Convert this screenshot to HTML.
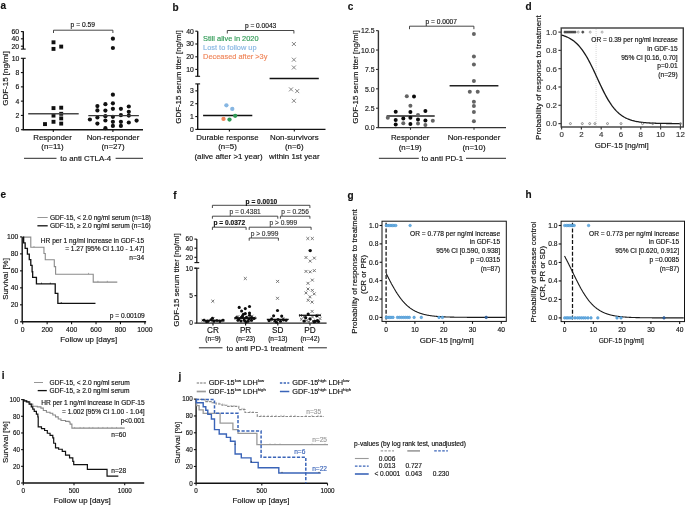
<!DOCTYPE html>
<html><head><meta charset="utf-8"><style>
html,body{margin:0;padding:0;background:#fff;}
svg{display:block;will-change:transform;}
text{font-family:"Liberation Sans", sans-serif;}
</style></head><body>
<svg width="685" height="505" viewBox="0 0 685 505" font-family='"Liberation Sans", sans-serif'>
<rect width="685" height="505" fill="#fff"/>
<text x="0.50" y="9.40" font-size="10" text-anchor="start" fill="#111" stroke="#111" stroke-width="0.15" font-weight="bold">a</text>
<line x1="23.30" y1="31.20" x2="23.30" y2="49.10" stroke="#111" stroke-width="1.4" stroke-linecap="butt"/>
<line x1="20.90" y1="31.60" x2="23.30" y2="31.60" stroke="#111" stroke-width="1.1" stroke-linecap="butt"/>
<text x="19.00" y="34.05" font-size="6.8" text-anchor="end" fill="#111" stroke="#111" stroke-width="0.15">60</text>
<line x1="20.90" y1="38.80" x2="23.30" y2="38.80" stroke="#111" stroke-width="1.1" stroke-linecap="butt"/>
<text x="19.00" y="41.25" font-size="6.8" text-anchor="end" fill="#111" stroke="#111" stroke-width="0.15">40</text>
<line x1="20.90" y1="46.20" x2="23.30" y2="46.20" stroke="#111" stroke-width="1.1" stroke-linecap="butt"/>
<text x="19.00" y="48.65" font-size="6.8" text-anchor="end" fill="#111" stroke="#111" stroke-width="0.15">20</text>
<line x1="20.90" y1="49.10" x2="25.70" y2="49.10" stroke="#111" stroke-width="1.1" stroke-linecap="butt"/>
<line x1="20.90" y1="58.30" x2="25.70" y2="58.30" stroke="#111" stroke-width="1.1" stroke-linecap="butt"/>
<line x1="23.30" y1="58.30" x2="23.30" y2="129.70" stroke="#111" stroke-width="1.4" stroke-linecap="butt"/>
<line x1="20.90" y1="129.70" x2="23.30" y2="129.70" stroke="#111" stroke-width="1.1" stroke-linecap="butt"/>
<text x="19.30" y="132.15" font-size="6.8" text-anchor="end" fill="#111" stroke="#111" stroke-width="0.15">0</text>
<line x1="20.90" y1="115.42" x2="23.30" y2="115.42" stroke="#111" stroke-width="1.1" stroke-linecap="butt"/>
<text x="19.30" y="117.87" font-size="6.8" text-anchor="end" fill="#111" stroke="#111" stroke-width="0.15">2</text>
<line x1="20.90" y1="101.14" x2="23.30" y2="101.14" stroke="#111" stroke-width="1.1" stroke-linecap="butt"/>
<text x="19.30" y="103.59" font-size="6.8" text-anchor="end" fill="#111" stroke="#111" stroke-width="0.15">4</text>
<line x1="20.90" y1="86.86" x2="23.30" y2="86.86" stroke="#111" stroke-width="1.1" stroke-linecap="butt"/>
<text x="19.30" y="89.31" font-size="6.8" text-anchor="end" fill="#111" stroke="#111" stroke-width="0.15">6</text>
<line x1="20.90" y1="72.58" x2="23.30" y2="72.58" stroke="#111" stroke-width="1.1" stroke-linecap="butt"/>
<text x="19.30" y="75.03" font-size="6.8" text-anchor="end" fill="#111" stroke="#111" stroke-width="0.15">8</text>
<text x="19.30" y="60.75" font-size="6.8" text-anchor="end" fill="#111" stroke="#111" stroke-width="0.15">10</text>
<line x1="22.60" y1="129.70" x2="143.00" y2="129.70" stroke="#111" stroke-width="1.4" stroke-linecap="butt"/>
<line x1="53.30" y1="129.70" x2="53.30" y2="131.90" stroke="#111" stroke-width="1.1" stroke-linecap="butt"/>
<line x1="112.90" y1="129.70" x2="112.90" y2="131.90" stroke="#111" stroke-width="1.1" stroke-linecap="butt"/>
<text x="0" y="2.88" font-size="8" text-anchor="middle" fill="#111" stroke="#111" stroke-width="0.15" transform="translate(4.90 78.50) rotate(-90)">GDF-15 [ng/ml]</text>
<text x="52.50" y="139.84" font-size="7.9" text-anchor="middle" fill="#111" stroke="#111" stroke-width="0.15">Responder</text>
<text x="52.50" y="149.44" font-size="7.9" text-anchor="middle" fill="#111" stroke="#111" stroke-width="0.15">(n=11)</text>
<text x="113.00" y="139.84" font-size="7.9" text-anchor="middle" fill="#111" stroke="#111" stroke-width="0.15">Non-responder</text>
<text x="113.00" y="149.44" font-size="7.9" text-anchor="middle" fill="#111" stroke="#111" stroke-width="0.15">(n=27)</text>
<text x="85.80" y="161.14" font-size="7.9" text-anchor="middle" fill="#111" stroke="#111" stroke-width="0.15">to anti CTLA-4</text>
<line x1="24.00" y1="158.30" x2="56.50" y2="158.30" stroke="#111" stroke-width="0.9" stroke-linecap="butt"/>
<line x1="115.60" y1="158.30" x2="143.00" y2="158.30" stroke="#111" stroke-width="0.9" stroke-linecap="butt"/>
<polyline points="53.50,33.00 53.50,30.20 112.90,30.20 112.90,33.00" fill="none" stroke="#333" stroke-width="0.9" stroke-linejoin="miter"/>
<text x="82.80" y="27.41" font-size="6.7" text-anchor="middle" fill="#111" stroke="#111" stroke-width="0.15">p = 0.59</text>
<rect x="51.55" y="40.35" width="3.9" height="3.9" fill="#111"/>
<rect x="51.55" y="46.95" width="3.9" height="3.9" fill="#111"/>
<rect x="59.25" y="44.65" width="3.9" height="3.9" fill="#111"/>
<rect x="51.55" y="106.15" width="3.9" height="3.9" fill="#111"/>
<rect x="59.25" y="105.75" width="3.9" height="3.9" fill="#111"/>
<rect x="51.55" y="113.65" width="3.9" height="3.9" fill="#111"/>
<rect x="59.25" y="111.85" width="3.9" height="3.9" fill="#111"/>
<rect x="59.25" y="116.45" width="3.9" height="3.9" fill="#111"/>
<rect x="51.55" y="119.85" width="3.9" height="3.9" fill="#111"/>
<rect x="59.25" y="121.65" width="3.9" height="3.9" fill="#111"/>
<rect x="43.05" y="122.15" width="3.9" height="3.9" fill="#111"/>
<line x1="28.20" y1="113.80" x2="78.70" y2="113.80" stroke="#4a4a4a" stroke-width="1.4" stroke-linecap="butt"/>
<circle cx="112.90" cy="38.70" r="2.1" fill="#111" stroke="none" stroke-width="0"/>
<circle cx="112.90" cy="48.00" r="2.1" fill="#111" stroke="none" stroke-width="0"/>
<circle cx="112.90" cy="94.70" r="2.1" fill="#111" stroke="none" stroke-width="0"/>
<circle cx="97.40" cy="106.10" r="2.1" fill="#111" stroke="none" stroke-width="0"/>
<circle cx="105.40" cy="104.20" r="2.1" fill="#111" stroke="none" stroke-width="0"/>
<circle cx="112.90" cy="103.30" r="2.1" fill="#111" stroke="none" stroke-width="0"/>
<circle cx="128.80" cy="106.50" r="2.1" fill="#111" stroke="none" stroke-width="0"/>
<circle cx="97.40" cy="110.40" r="2.1" fill="#111" stroke="none" stroke-width="0"/>
<circle cx="105.40" cy="110.60" r="2.1" fill="#111" stroke="none" stroke-width="0"/>
<circle cx="112.90" cy="108.80" r="2.1" fill="#111" stroke="none" stroke-width="0"/>
<circle cx="120.90" cy="108.80" r="2.1" fill="#111" stroke="none" stroke-width="0"/>
<circle cx="128.80" cy="111.80" r="2.1" fill="#111" stroke="none" stroke-width="0"/>
<circle cx="89.90" cy="119.50" r="2.1" fill="#111" stroke="none" stroke-width="0"/>
<circle cx="97.40" cy="117.50" r="2.1" fill="#111" stroke="none" stroke-width="0"/>
<circle cx="105.40" cy="116.20" r="2.1" fill="#111" stroke="none" stroke-width="0"/>
<circle cx="112.90" cy="116.80" r="2.1" fill="#111" stroke="none" stroke-width="0"/>
<circle cx="120.90" cy="115.20" r="2.1" fill="#111" stroke="none" stroke-width="0"/>
<circle cx="128.80" cy="115.60" r="2.1" fill="#111" stroke="none" stroke-width="0"/>
<circle cx="136.60" cy="120.60" r="2.1" fill="#111" stroke="none" stroke-width="0"/>
<circle cx="97.40" cy="123.60" r="2.1" fill="#111" stroke="none" stroke-width="0"/>
<circle cx="105.40" cy="120.50" r="2.1" fill="#111" stroke="none" stroke-width="0"/>
<circle cx="112.90" cy="121.80" r="2.1" fill="#111" stroke="none" stroke-width="0"/>
<circle cx="120.90" cy="121.80" r="2.1" fill="#111" stroke="none" stroke-width="0"/>
<circle cx="128.80" cy="122.50" r="2.1" fill="#111" stroke="none" stroke-width="0"/>
<circle cx="112.90" cy="125.90" r="2.1" fill="#111" stroke="none" stroke-width="0"/>
<circle cx="120.90" cy="125.90" r="2.1" fill="#111" stroke="none" stroke-width="0"/>
<circle cx="105.40" cy="128.20" r="2.1" fill="#111" stroke="none" stroke-width="0"/>
<line x1="88.30" y1="115.60" x2="138.90" y2="115.60" stroke="#3a3a3a" stroke-width="1.4" stroke-linecap="butt"/>
<text x="172.50" y="10.50" font-size="10" text-anchor="start" fill="#111" stroke="#111" stroke-width="0.15" font-weight="bold">b</text>
<line x1="197.70" y1="31.20" x2="197.70" y2="76.30" stroke="#111" stroke-width="1.4" stroke-linecap="butt"/>
<line x1="195.30" y1="31.20" x2="197.70" y2="31.20" stroke="#111" stroke-width="1.1" stroke-linecap="butt"/>
<text x="193.70" y="33.65" font-size="6.8" text-anchor="end" fill="#111" stroke="#111" stroke-width="0.15">40</text>
<line x1="195.30" y1="44.00" x2="197.70" y2="44.00" stroke="#111" stroke-width="1.1" stroke-linecap="butt"/>
<text x="193.70" y="46.45" font-size="6.8" text-anchor="end" fill="#111" stroke="#111" stroke-width="0.15">30</text>
<line x1="195.30" y1="56.80" x2="197.70" y2="56.80" stroke="#111" stroke-width="1.1" stroke-linecap="butt"/>
<text x="193.70" y="59.25" font-size="6.8" text-anchor="end" fill="#111" stroke="#111" stroke-width="0.15">20</text>
<line x1="195.30" y1="69.40" x2="197.70" y2="69.40" stroke="#111" stroke-width="1.1" stroke-linecap="butt"/>
<text x="193.70" y="71.85" font-size="6.8" text-anchor="end" fill="#111" stroke="#111" stroke-width="0.15">10</text>
<line x1="195.30" y1="76.30" x2="200.10" y2="76.30" stroke="#111" stroke-width="1.1" stroke-linecap="butt"/>
<line x1="197.70" y1="83.90" x2="197.70" y2="129.40" stroke="#111" stroke-width="1.4" stroke-linecap="butt"/>
<line x1="195.30" y1="83.90" x2="200.10" y2="83.90" stroke="#111" stroke-width="1.1" stroke-linecap="butt"/>
<line x1="195.30" y1="129.40" x2="197.70" y2="129.40" stroke="#111" stroke-width="1.1" stroke-linecap="butt"/>
<text x="193.70" y="131.85" font-size="6.8" text-anchor="end" fill="#111" stroke="#111" stroke-width="0.15">0</text>
<line x1="195.30" y1="116.55" x2="197.70" y2="116.55" stroke="#111" stroke-width="1.1" stroke-linecap="butt"/>
<text x="193.70" y="119.00" font-size="6.8" text-anchor="end" fill="#111" stroke="#111" stroke-width="0.15">1</text>
<line x1="195.30" y1="103.70" x2="197.70" y2="103.70" stroke="#111" stroke-width="1.1" stroke-linecap="butt"/>
<text x="193.70" y="106.15" font-size="6.8" text-anchor="end" fill="#111" stroke="#111" stroke-width="0.15">2</text>
<line x1="195.30" y1="90.85" x2="197.70" y2="90.85" stroke="#111" stroke-width="1.1" stroke-linecap="butt"/>
<text x="193.70" y="93.30" font-size="6.8" text-anchor="end" fill="#111" stroke="#111" stroke-width="0.15">3</text>
<line x1="197.00" y1="129.40" x2="325.50" y2="129.40" stroke="#111" stroke-width="1.4" stroke-linecap="butt"/>
<line x1="229.40" y1="129.40" x2="229.40" y2="131.60" stroke="#111" stroke-width="1.1" stroke-linecap="butt"/>
<line x1="294.30" y1="129.40" x2="294.30" y2="131.60" stroke="#111" stroke-width="1.1" stroke-linecap="butt"/>
<text x="0" y="2.84" font-size="7.9" text-anchor="middle" fill="#111" stroke="#111" stroke-width="0.15" transform="translate(178.60 77.00) rotate(-90)">GDF-15 serum titer [ng/ml]</text>
<text x="227.50" y="139.64" font-size="7.9" text-anchor="middle" fill="#111" stroke="#111" stroke-width="0.15">Durable response</text>
<text x="227.50" y="149.44" font-size="7.9" text-anchor="middle" fill="#111" stroke="#111" stroke-width="0.15">(n=5)</text>
<text x="228.50" y="158.84" font-size="7.9" text-anchor="middle" fill="#111" stroke="#111" stroke-width="0.15">(alive after &gt;1 year)</text>
<text x="294.30" y="139.64" font-size="7.9" text-anchor="middle" fill="#111" stroke="#111" stroke-width="0.15">Non-survivors</text>
<text x="294.30" y="149.44" font-size="7.9" text-anchor="middle" fill="#111" stroke="#111" stroke-width="0.15">(n=6)</text>
<text x="294.30" y="158.84" font-size="7.9" text-anchor="middle" fill="#111" stroke="#111" stroke-width="0.15">within 1st year</text>
<polyline points="227.30,33.50 227.30,30.50 293.90,30.50 293.90,33.50" fill="none" stroke="#333" stroke-width="0.9" stroke-linejoin="miter"/>
<text x="260.60" y="27.88" font-size="6.6" text-anchor="middle" fill="#111" stroke="#111" stroke-width="0.15">p = 0.0043</text>
<text x="203.10" y="41.46" font-size="7.4" text-anchor="start" fill="#2e9a55" stroke="#2e9a55" stroke-width="0.15">Still alive in 2020</text>
<text x="203.10" y="50.26" font-size="7.4" text-anchor="start" fill="#86b6e2" stroke="#86b6e2" stroke-width="0.15">Lost to follow up</text>
<text x="203.10" y="59.26" font-size="7.4" text-anchor="start" fill="#ef8559" stroke="#ef8559" stroke-width="0.15">Deceased after &gt;3y</text>
<line x1="203.10" y1="115.50" x2="252.30" y2="115.50" stroke="#111" stroke-width="1.5" stroke-linecap="butt"/>
<line x1="269.60" y1="78.50" x2="318.80" y2="78.50" stroke="#111" stroke-width="1.5" stroke-linecap="butt"/>
<path d="M291.90,42.00L295.90,46.00M291.90,46.00L295.90,42.00" stroke="#858585" stroke-width="1.0"/>
<path d="M291.90,57.70L295.90,61.70M291.90,61.70L295.90,57.70" stroke="#858585" stroke-width="1.0"/>
<path d="M291.90,65.50L295.90,69.50M291.90,69.50L295.90,65.50" stroke="#858585" stroke-width="1.0"/>
<path d="M289.00,87.40L293.00,91.40M289.00,91.40L293.00,87.40" stroke="#858585" stroke-width="1.0"/>
<path d="M295.20,89.10L299.20,93.10M295.20,93.10L299.20,89.10" stroke="#858585" stroke-width="1.0"/>
<path d="M291.90,98.80L295.90,102.80M291.90,102.80L295.90,98.80" stroke="#858585" stroke-width="1.0"/>
<circle cx="226.40" cy="105.30" r="2.15" fill="#86b6e2" stroke="none" stroke-width="0"/>
<circle cx="232.30" cy="108.90" r="2.15" fill="#86b6e2" stroke="none" stroke-width="0"/>
<circle cx="223.50" cy="118.90" r="2.15" fill="#ef8559" stroke="none" stroke-width="0"/>
<circle cx="229.50" cy="119.60" r="2.15" fill="#2e9a55" stroke="none" stroke-width="0"/>
<circle cx="235.20" cy="115.80" r="2.15" fill="#2e9a55" stroke="none" stroke-width="0"/>
<text x="347.70" y="10.40" font-size="10" text-anchor="start" fill="#111" stroke="#111" stroke-width="0.15" font-weight="bold">c</text>
<line x1="378.40" y1="30.50" x2="378.40" y2="127.60" stroke="#333" stroke-width="1.4" stroke-linecap="butt"/>
<line x1="376.00" y1="127.60" x2="378.40" y2="127.60" stroke="#333" stroke-width="1.1" stroke-linecap="butt"/>
<text x="374.50" y="130.28" font-size="6.9" text-anchor="end" fill="#111" stroke="#111" stroke-width="0.15">0.0</text>
<line x1="376.00" y1="108.21" x2="378.40" y2="108.21" stroke="#333" stroke-width="1.1" stroke-linecap="butt"/>
<text x="374.50" y="110.89" font-size="6.9" text-anchor="end" fill="#111" stroke="#111" stroke-width="0.15">2.5</text>
<line x1="376.00" y1="88.82" x2="378.40" y2="88.82" stroke="#333" stroke-width="1.1" stroke-linecap="butt"/>
<text x="374.50" y="91.50" font-size="6.9" text-anchor="end" fill="#111" stroke="#111" stroke-width="0.15">5.0</text>
<line x1="376.00" y1="69.43" x2="378.40" y2="69.43" stroke="#333" stroke-width="1.1" stroke-linecap="butt"/>
<text x="374.50" y="72.11" font-size="6.9" text-anchor="end" fill="#111" stroke="#111" stroke-width="0.15">7.5</text>
<line x1="376.00" y1="50.04" x2="378.40" y2="50.04" stroke="#333" stroke-width="1.1" stroke-linecap="butt"/>
<text x="374.50" y="52.72" font-size="6.9" text-anchor="end" fill="#111" stroke="#111" stroke-width="0.15">10.0</text>
<line x1="376.00" y1="30.65" x2="378.40" y2="30.65" stroke="#333" stroke-width="1.1" stroke-linecap="butt"/>
<text x="374.50" y="33.33" font-size="6.9" text-anchor="end" fill="#111" stroke="#111" stroke-width="0.15">12.5</text>
<line x1="377.70" y1="127.60" x2="506.00" y2="127.60" stroke="#333" stroke-width="1.4" stroke-linecap="butt"/>
<line x1="410.50" y1="127.60" x2="410.50" y2="129.80" stroke="#333" stroke-width="1.1" stroke-linecap="butt"/>
<line x1="474.00" y1="127.60" x2="474.00" y2="129.80" stroke="#333" stroke-width="1.1" stroke-linecap="butt"/>
<text x="0" y="2.84" font-size="7.9" text-anchor="middle" fill="#111" stroke="#111" stroke-width="0.15" transform="translate(355.30 77.00) rotate(-90)">GDF-15 serum titer [ng/ml]</text>
<text x="410.20" y="140.14" font-size="7.9" text-anchor="middle" fill="#111" stroke="#111" stroke-width="0.15">Responder</text>
<text x="410.20" y="150.04" font-size="7.9" text-anchor="middle" fill="#111" stroke="#111" stroke-width="0.15">(n=19)</text>
<text x="474.00" y="140.14" font-size="7.9" text-anchor="middle" fill="#111" stroke="#111" stroke-width="0.15">Non-responder</text>
<text x="474.00" y="150.04" font-size="7.9" text-anchor="middle" fill="#111" stroke="#111" stroke-width="0.15">(n=10)</text>
<text x="442.30" y="161.14" font-size="7.9" text-anchor="middle" fill="#111" stroke="#111" stroke-width="0.15">to anti PD-1</text>
<line x1="378.90" y1="158.30" x2="418.80" y2="158.30" stroke="#111" stroke-width="0.9" stroke-linecap="butt"/>
<line x1="466.00" y1="158.30" x2="506.00" y2="158.30" stroke="#111" stroke-width="0.9" stroke-linecap="butt"/>
<polyline points="409.50,29.20 409.50,26.20 473.90,26.20 473.90,29.20" fill="none" stroke="#333" stroke-width="0.9" stroke-linejoin="miter"/>
<text x="441.30" y="24.48" font-size="6.6" text-anchor="middle" fill="#111" stroke="#111" stroke-width="0.15">p = 0.0007</text>
<line x1="386.60" y1="116.00" x2="434.70" y2="116.00" stroke="#222" stroke-width="1.5" stroke-linecap="butt"/>
<line x1="449.60" y1="85.80" x2="498.40" y2="85.80" stroke="#222" stroke-width="1.5" stroke-linecap="butt"/>
<circle cx="473.90" cy="34.00" r="2.0" fill="#646464" stroke="none" stroke-width="0"/>
<circle cx="473.90" cy="56.40" r="2.0" fill="#646464" stroke="none" stroke-width="0"/>
<circle cx="473.90" cy="64.40" r="2.0" fill="#646464" stroke="none" stroke-width="0"/>
<circle cx="473.90" cy="81.10" r="2.0" fill="#646464" stroke="none" stroke-width="0"/>
<circle cx="469.80" cy="91.80" r="2.0" fill="#646464" stroke="none" stroke-width="0"/>
<circle cx="477.70" cy="91.80" r="2.0" fill="#646464" stroke="none" stroke-width="0"/>
<circle cx="473.90" cy="101.80" r="2.0" fill="#646464" stroke="none" stroke-width="0"/>
<circle cx="473.90" cy="106.00" r="2.0" fill="#646464" stroke="none" stroke-width="0"/>
<circle cx="473.90" cy="112.00" r="2.0" fill="#646464" stroke="none" stroke-width="0"/>
<circle cx="473.90" cy="121.30" r="2.0" fill="#646464" stroke="none" stroke-width="0"/>
<circle cx="406.80" cy="96.30" r="2.0" fill="#646464" stroke="none" stroke-width="0"/>
<circle cx="410.40" cy="105.80" r="2.0" fill="#646464" stroke="none" stroke-width="0"/>
<circle cx="387.80" cy="117.70" r="2.0" fill="#646464" stroke="none" stroke-width="0"/>
<circle cx="418.00" cy="115.10" r="2.0" fill="#646464" stroke="none" stroke-width="0"/>
<circle cx="403.30" cy="123.20" r="2.0" fill="#646464" stroke="none" stroke-width="0"/>
<circle cx="418.00" cy="123.60" r="2.0" fill="#646464" stroke="none" stroke-width="0"/>
<circle cx="425.40" cy="125.00" r="2.0" fill="#646464" stroke="none" stroke-width="0"/>
<circle cx="432.80" cy="120.80" r="2.0" fill="#646464" stroke="none" stroke-width="0"/>
<circle cx="395.70" cy="111.70" r="2.0" fill="#0a0a0a" stroke="none" stroke-width="0"/>
<circle cx="414.00" cy="96.50" r="2.0" fill="#0a0a0a" stroke="none" stroke-width="0"/>
<circle cx="410.40" cy="112.00" r="2.0" fill="#0a0a0a" stroke="none" stroke-width="0"/>
<circle cx="425.40" cy="111.00" r="2.0" fill="#0a0a0a" stroke="none" stroke-width="0"/>
<circle cx="395.70" cy="120.10" r="2.0" fill="#0a0a0a" stroke="none" stroke-width="0"/>
<circle cx="403.30" cy="118.60" r="2.0" fill="#0a0a0a" stroke="none" stroke-width="0"/>
<circle cx="410.40" cy="117.70" r="2.0" fill="#0a0a0a" stroke="none" stroke-width="0"/>
<circle cx="418.00" cy="119.60" r="2.0" fill="#0a0a0a" stroke="none" stroke-width="0"/>
<circle cx="425.40" cy="120.50" r="2.0" fill="#0a0a0a" stroke="none" stroke-width="0"/>
<circle cx="395.70" cy="124.60" r="2.0" fill="#0a0a0a" stroke="none" stroke-width="0"/>
<circle cx="410.40" cy="124.10" r="2.0" fill="#0a0a0a" stroke="none" stroke-width="0"/>
<text x="525.50" y="10.40" font-size="10" text-anchor="start" fill="#111" stroke="#111" stroke-width="0.15" font-weight="bold">d</text>
<rect x="561.2" y="28.0" width="122.09999999999991" height="99.0" fill="none" stroke="#3c3c3c" stroke-width="1.4"/>
<line x1="558.40" y1="123.60" x2="561.20" y2="123.60" stroke="#3c3c3c" stroke-width="1.2" stroke-linecap="butt"/>
<text x="557.00" y="126.44" font-size="7.9" text-anchor="end" fill="#333" stroke="#333" stroke-width="0.15">0.0</text>
<line x1="558.40" y1="105.30" x2="561.20" y2="105.30" stroke="#3c3c3c" stroke-width="1.2" stroke-linecap="butt"/>
<text x="557.00" y="108.14" font-size="7.9" text-anchor="end" fill="#333" stroke="#333" stroke-width="0.15">0.2</text>
<line x1="558.40" y1="87.00" x2="561.20" y2="87.00" stroke="#3c3c3c" stroke-width="1.2" stroke-linecap="butt"/>
<text x="557.00" y="89.84" font-size="7.9" text-anchor="end" fill="#333" stroke="#333" stroke-width="0.15">0.4</text>
<line x1="558.40" y1="68.70" x2="561.20" y2="68.70" stroke="#3c3c3c" stroke-width="1.2" stroke-linecap="butt"/>
<text x="557.00" y="71.54" font-size="7.9" text-anchor="end" fill="#333" stroke="#333" stroke-width="0.15">0.6</text>
<line x1="558.40" y1="50.40" x2="561.20" y2="50.40" stroke="#3c3c3c" stroke-width="1.2" stroke-linecap="butt"/>
<text x="557.00" y="53.24" font-size="7.9" text-anchor="end" fill="#333" stroke="#333" stroke-width="0.15">0.8</text>
<line x1="558.40" y1="32.10" x2="561.20" y2="32.10" stroke="#3c3c3c" stroke-width="1.2" stroke-linecap="butt"/>
<text x="557.00" y="34.94" font-size="7.9" text-anchor="end" fill="#333" stroke="#333" stroke-width="0.15">1.0</text>
<line x1="561.60" y1="127.00" x2="561.60" y2="129.60" stroke="#3c3c3c" stroke-width="1.2" stroke-linecap="butt"/>
<text x="561.60" y="137.14" font-size="7.9" text-anchor="middle" fill="#333" stroke="#333" stroke-width="0.15">0</text>
<line x1="581.40" y1="127.00" x2="581.40" y2="129.60" stroke="#3c3c3c" stroke-width="1.2" stroke-linecap="butt"/>
<text x="581.40" y="137.14" font-size="7.9" text-anchor="middle" fill="#333" stroke="#333" stroke-width="0.15">2</text>
<line x1="601.20" y1="127.00" x2="601.20" y2="129.60" stroke="#3c3c3c" stroke-width="1.2" stroke-linecap="butt"/>
<text x="601.20" y="137.14" font-size="7.9" text-anchor="middle" fill="#333" stroke="#333" stroke-width="0.15">4</text>
<line x1="621.00" y1="127.00" x2="621.00" y2="129.60" stroke="#3c3c3c" stroke-width="1.2" stroke-linecap="butt"/>
<text x="621.00" y="137.14" font-size="7.9" text-anchor="middle" fill="#333" stroke="#333" stroke-width="0.15">6</text>
<line x1="640.80" y1="127.00" x2="640.80" y2="129.60" stroke="#3c3c3c" stroke-width="1.2" stroke-linecap="butt"/>
<text x="640.80" y="137.14" font-size="7.9" text-anchor="middle" fill="#333" stroke="#333" stroke-width="0.15">8</text>
<line x1="660.60" y1="127.00" x2="660.60" y2="129.60" stroke="#3c3c3c" stroke-width="1.2" stroke-linecap="butt"/>
<text x="660.60" y="137.14" font-size="7.9" text-anchor="middle" fill="#333" stroke="#333" stroke-width="0.15">10</text>
<line x1="680.40" y1="127.00" x2="680.40" y2="129.60" stroke="#3c3c3c" stroke-width="1.2" stroke-linecap="butt"/>
<text x="680.40" y="137.14" font-size="7.9" text-anchor="middle" fill="#333" stroke="#333" stroke-width="0.15">12</text>
<line x1="660.60" y1="123.60" x2="660.60" y2="127.00" stroke="#3c3c3c" stroke-width="1.0" stroke-linecap="butt"/>
<line x1="680.40" y1="123.60" x2="680.40" y2="127.00" stroke="#3c3c3c" stroke-width="1.0" stroke-linecap="butt"/>
<text x="621.70" y="147.54" font-size="7.9" text-anchor="middle" fill="#111" stroke="#111" stroke-width="0.15">GDF-15 [ng/ml]</text>
<text x="0" y="2.84" font-size="7.9" text-anchor="middle" fill="#111" stroke="#111" stroke-width="0.15" transform="translate(538.00 77.60) rotate(-90)">Probability of response to treatment</text>
<line x1="596.10" y1="29.00" x2="596.10" y2="126.00" stroke="#c8c8c8" stroke-width="0.7" stroke-dasharray="1,1" stroke-linecap="butt"/>
<polyline points="561.60,35.11 562.59,35.40 563.58,35.71 564.57,36.05 565.56,36.43 566.55,36.83 567.54,37.27 568.53,37.75 569.52,38.27 570.51,38.84 571.50,39.45 572.49,40.11 573.48,40.82 574.47,41.60 575.46,42.43 576.45,43.32 577.44,44.28 578.43,45.31 579.42,46.41 580.41,47.59 581.40,48.84 582.39,50.16 583.38,51.57 584.37,53.05 585.36,54.61 586.35,56.24 587.34,57.95 588.33,59.74 589.32,61.58 590.31,63.50 591.30,65.47 592.29,67.49 593.28,69.55 594.27,71.65 595.26,73.78 596.25,75.92 597.24,78.07 598.23,80.23 599.22,82.37 600.21,84.49 601.20,86.58 602.19,88.64 603.18,90.65 604.17,92.60 605.16,94.50 606.15,96.34 607.14,98.11 608.13,99.80 609.12,101.42 610.11,102.97 611.10,104.43 612.09,105.82 613.08,107.13 614.07,108.36 615.06,109.52 616.05,110.61 617.04,111.62 618.03,112.57 619.02,113.45 620.01,114.27 621.00,115.03 621.99,115.73 622.98,116.38 623.97,116.99 624.96,117.54 625.95,118.05 626.94,118.52 627.93,118.96 628.92,119.35 629.91,119.72 630.90,120.05 631.89,120.36 632.88,120.64 633.87,120.90 634.86,121.14 635.85,121.35 636.84,121.55 637.83,121.73 638.82,121.90 639.81,122.05 640.80,122.18 641.79,122.31 642.78,122.42 643.77,122.53 644.76,122.62 645.75,122.71 646.74,122.79 647.73,122.86 648.72,122.93 649.71,122.99 650.70,123.04 651.69,123.09 652.68,123.14 653.67,123.18 654.66,123.22 655.65,123.25 656.64,123.28 657.63,123.31 658.62,123.34 659.61,123.36 660.60,123.38 661.59,123.40 662.58,123.42 663.57,123.44 664.56,123.45 665.55,123.46 666.54,123.48 667.53,123.49 668.52,123.50 669.51,123.51 670.50,123.51 671.49,123.52 672.48,123.53 673.47,123.54 674.46,123.54 675.45,123.55 676.44,123.55 677.43,123.56 678.42,123.56 679.41,123.56 680.40,123.57" fill="none" stroke="#1a1a1a" stroke-width="1.3" stroke-linejoin="miter"/>
<circle cx="565.00" cy="32.10" r="1.1" fill="#555" stroke="#333" stroke-width="0.6"/>
<circle cx="567.00" cy="32.10" r="1.1" fill="#555" stroke="#333" stroke-width="0.6"/>
<circle cx="569.00" cy="32.10" r="1.1" fill="#555" stroke="#333" stroke-width="0.6"/>
<circle cx="571.00" cy="32.10" r="1.1" fill="#555" stroke="#333" stroke-width="0.6"/>
<circle cx="573.00" cy="32.10" r="1.1" fill="#555" stroke="#333" stroke-width="0.6"/>
<circle cx="575.00" cy="32.10" r="1.1" fill="#555" stroke="#333" stroke-width="0.6"/>
<circle cx="582.80" cy="32.10" r="1.1" fill="#555" stroke="#333" stroke-width="0.6"/>
<circle cx="578.20" cy="32.10" r="1.0" fill="none" stroke="#888" stroke-width="0.7"/>
<circle cx="590.20" cy="32.10" r="1.0" fill="none" stroke="#888" stroke-width="0.7"/>
<circle cx="602.10" cy="32.10" r="1.0" fill="none" stroke="#888" stroke-width="0.7"/>
<circle cx="570.40" cy="123.60" r="1.0" fill="none" stroke="#666" stroke-width="0.7"/>
<circle cx="582.30" cy="123.60" r="1.0" fill="none" stroke="#666" stroke-width="0.7"/>
<circle cx="589.70" cy="123.60" r="1.0" fill="none" stroke="#666" stroke-width="0.7"/>
<circle cx="594.90" cy="123.60" r="1.0" fill="none" stroke="#666" stroke-width="0.7"/>
<circle cx="607.50" cy="123.60" r="1.0" fill="none" stroke="#666" stroke-width="0.7"/>
<circle cx="621.00" cy="123.60" r="1.0" fill="none" stroke="#666" stroke-width="0.7"/>
<circle cx="642.50" cy="123.60" r="1.0" fill="none" stroke="#666" stroke-width="0.7"/>
<circle cx="652.70" cy="123.60" r="1.0" fill="none" stroke="#666" stroke-width="0.7"/>
<circle cx="680.50" cy="123.60" r="1.0" fill="none" stroke="#666" stroke-width="0.7"/>
<text x="677.60" y="41.88" font-size="6.6" text-anchor="end" fill="#111" stroke="#111" stroke-width="0.15">OR = 0.39 per ng/ml increase</text>
<text x="677.60" y="50.68" font-size="6.6" text-anchor="end" fill="#111" stroke="#111" stroke-width="0.15">in GDF-15</text>
<text x="677.60" y="59.68" font-size="6.6" text-anchor="end" fill="#111" stroke="#111" stroke-width="0.15">95% CI [0.16, 0.70]</text>
<text x="677.60" y="68.48" font-size="6.6" text-anchor="end" fill="#111" stroke="#111" stroke-width="0.15">p=0.01</text>
<text x="677.60" y="77.28" font-size="6.6" text-anchor="end" fill="#111" stroke="#111" stroke-width="0.15">(n=29)</text>
<text x="0.50" y="198.40" font-size="10" text-anchor="start" fill="#111" stroke="#111" stroke-width="0.15" font-weight="bold">e</text>
<line x1="37.40" y1="217.50" x2="47.70" y2="217.50" stroke="#8a8a8a" stroke-width="0.9" stroke-linecap="butt"/>
<text x="49.90" y="219.88" font-size="6.6" text-anchor="start" fill="#111" stroke="#111" stroke-width="0.15">GDF-15, &lt; 2.0 ng/ml serum (n=18)</text>
<line x1="37.40" y1="225.80" x2="47.70" y2="225.80" stroke="#111" stroke-width="1.3" stroke-linecap="butt"/>
<text x="49.90" y="228.18" font-size="6.6" text-anchor="start" fill="#111" stroke="#111" stroke-width="0.15">GDF-15, ≥ 2.0 ng/ml serum (n=16)</text>
<line x1="22.20" y1="236.90" x2="22.20" y2="321.80" stroke="#111" stroke-width="1.4" stroke-linecap="butt"/>
<line x1="20.00" y1="321.80" x2="22.20" y2="321.80" stroke="#111" stroke-width="1.1" stroke-linecap="butt"/>
<text x="18.40" y="324.25" font-size="6.8" text-anchor="end" fill="#111" stroke="#111" stroke-width="0.15">0</text>
<line x1="20.00" y1="304.82" x2="22.20" y2="304.82" stroke="#111" stroke-width="1.1" stroke-linecap="butt"/>
<text x="18.40" y="307.27" font-size="6.8" text-anchor="end" fill="#111" stroke="#111" stroke-width="0.15">20</text>
<line x1="20.00" y1="287.84" x2="22.20" y2="287.84" stroke="#111" stroke-width="1.1" stroke-linecap="butt"/>
<text x="18.40" y="290.29" font-size="6.8" text-anchor="end" fill="#111" stroke="#111" stroke-width="0.15">40</text>
<line x1="20.00" y1="270.86" x2="22.20" y2="270.86" stroke="#111" stroke-width="1.1" stroke-linecap="butt"/>
<text x="18.40" y="273.31" font-size="6.8" text-anchor="end" fill="#111" stroke="#111" stroke-width="0.15">60</text>
<line x1="20.00" y1="253.88" x2="22.20" y2="253.88" stroke="#111" stroke-width="1.1" stroke-linecap="butt"/>
<text x="18.40" y="256.33" font-size="6.8" text-anchor="end" fill="#111" stroke="#111" stroke-width="0.15">80</text>
<line x1="20.00" y1="236.90" x2="22.20" y2="236.90" stroke="#111" stroke-width="1.1" stroke-linecap="butt"/>
<text x="18.40" y="239.35" font-size="6.8" text-anchor="end" fill="#111" stroke="#111" stroke-width="0.15">100</text>
<line x1="21.50" y1="321.80" x2="146.10" y2="321.80" stroke="#111" stroke-width="1.4" stroke-linecap="butt"/>
<line x1="22.70" y1="321.80" x2="22.70" y2="324.20" stroke="#111" stroke-width="1.1" stroke-linecap="butt"/>
<text x="22.70" y="332.25" font-size="6.8" text-anchor="middle" fill="#111" stroke="#111" stroke-width="0.15">0</text>
<line x1="47.14" y1="321.80" x2="47.14" y2="324.20" stroke="#111" stroke-width="1.1" stroke-linecap="butt"/>
<text x="47.14" y="332.25" font-size="6.8" text-anchor="middle" fill="#111" stroke="#111" stroke-width="0.15">200</text>
<line x1="71.58" y1="321.80" x2="71.58" y2="324.20" stroke="#111" stroke-width="1.1" stroke-linecap="butt"/>
<text x="71.58" y="332.25" font-size="6.8" text-anchor="middle" fill="#111" stroke="#111" stroke-width="0.15">400</text>
<line x1="96.02" y1="321.80" x2="96.02" y2="324.20" stroke="#111" stroke-width="1.1" stroke-linecap="butt"/>
<text x="96.02" y="332.25" font-size="6.8" text-anchor="middle" fill="#111" stroke="#111" stroke-width="0.15">600</text>
<line x1="120.46" y1="321.80" x2="120.46" y2="324.20" stroke="#111" stroke-width="1.1" stroke-linecap="butt"/>
<text x="120.46" y="332.25" font-size="6.8" text-anchor="middle" fill="#111" stroke="#111" stroke-width="0.15">800</text>
<line x1="144.90" y1="321.80" x2="144.90" y2="324.20" stroke="#111" stroke-width="1.1" stroke-linecap="butt"/>
<text x="144.90" y="332.25" font-size="6.8" text-anchor="middle" fill="#111" stroke="#111" stroke-width="0.15">1000</text>
<text x="88.70" y="342.34" font-size="7.9" text-anchor="middle" fill="#111" stroke="#111" stroke-width="0.15">Follow up [days]</text>
<text x="0" y="2.84" font-size="7.9" text-anchor="middle" fill="#111" stroke="#111" stroke-width="0.15" transform="translate(5.00 279.00) rotate(-90)">Survival [%]</text>
<text x="144.20" y="242.88" font-size="6.6" text-anchor="end" fill="#111" stroke="#111" stroke-width="0.15">HR per 1 ng/ml increase in GDF-15</text>
<text x="144.20" y="251.18" font-size="6.6" text-anchor="end" fill="#111" stroke="#111" stroke-width="0.15">= 1.27 [95% CI 1.10 - 1.47]</text>
<text x="144.20" y="260.08" font-size="6.6" text-anchor="end" fill="#111" stroke="#111" stroke-width="0.15">n=34</text>
<text x="144.80" y="318.28" font-size="6.6" text-anchor="end" fill="#111" stroke="#111" stroke-width="0.15">p = 0.00109</text>
<polyline points="22.70,237.15 30.79,237.15 30.79,247.30 43.95,247.30 43.95,253.51 45.27,253.51 45.27,259.71 54.29,259.71 54.29,266.67 55.61,266.67 55.61,274.19 93.22,274.19 93.22,282.09 117.29,282.09 117.29,282.09" fill="none" stroke="#8a8a8a" stroke-width="1.1" stroke-linejoin="miter"/>
<line x1="33.98" y1="246.00" x2="33.98" y2="247.30" stroke="#8a8a8a" stroke-width="0.7" stroke-linecap="butt"/>
<line x1="88.52" y1="272.89" x2="88.52" y2="274.19" stroke="#8a8a8a" stroke-width="0.7" stroke-linecap="butt"/>
<line x1="97.92" y1="280.79" x2="97.92" y2="282.09" stroke="#8a8a8a" stroke-width="0.7" stroke-linecap="butt"/>
<line x1="107.32" y1="280.79" x2="107.32" y2="282.09" stroke="#8a8a8a" stroke-width="0.7" stroke-linecap="butt"/>
<polyline points="22.70,237.15 23.64,237.15 23.64,242.79 25.15,242.79 25.15,248.43 27.40,248.43 27.40,254.07 29.28,254.07 29.28,259.71 30.79,259.71 30.79,265.35 32.10,265.35 32.10,271.75 32.67,271.75 32.67,277.39 36.43,277.39 36.43,283.97 55.23,283.97 55.23,293.37 57.86,293.37 57.86,303.34 95.47,303.34 95.47,303.34" fill="none" stroke="#111" stroke-width="1.3" stroke-linejoin="miter"/>
<line x1="41.51" y1="282.67" x2="41.51" y2="283.97" stroke="#111" stroke-width="0.7" stroke-linecap="butt"/>
<line x1="50.34" y1="282.67" x2="50.34" y2="283.97" stroke="#111" stroke-width="0.7" stroke-linecap="butt"/>
<line x1="61.25" y1="302.04" x2="61.25" y2="303.34" stroke="#111" stroke-width="0.7" stroke-linecap="butt"/>
<text x="173.30" y="199.40" font-size="10" text-anchor="start" fill="#111" stroke="#111" stroke-width="0.15" font-weight="bold">f</text>
<line x1="196.80" y1="239.10" x2="196.80" y2="262.60" stroke="#222" stroke-width="1.3" stroke-linecap="butt"/>
<line x1="194.40" y1="239.10" x2="196.80" y2="239.10" stroke="#111" stroke-width="1.1" stroke-linecap="butt"/>
<text x="192.90" y="241.48" font-size="6.6" text-anchor="end" fill="#111" stroke="#111" stroke-width="0.15">60</text>
<line x1="194.40" y1="248.20" x2="196.80" y2="248.20" stroke="#111" stroke-width="1.1" stroke-linecap="butt"/>
<text x="192.90" y="250.58" font-size="6.6" text-anchor="end" fill="#111" stroke="#111" stroke-width="0.15">40</text>
<line x1="194.40" y1="257.30" x2="196.80" y2="257.30" stroke="#111" stroke-width="1.1" stroke-linecap="butt"/>
<text x="192.90" y="259.68" font-size="6.6" text-anchor="end" fill="#111" stroke="#111" stroke-width="0.15">20</text>
<line x1="194.40" y1="262.60" x2="199.20" y2="262.60" stroke="#111" stroke-width="1.1" stroke-linecap="butt"/>
<line x1="194.40" y1="268.20" x2="199.20" y2="268.20" stroke="#111" stroke-width="1.1" stroke-linecap="butt"/>
<line x1="196.80" y1="268.20" x2="196.80" y2="323.10" stroke="#222" stroke-width="1.3" stroke-linecap="butt"/>
<line x1="194.40" y1="323.10" x2="196.80" y2="323.10" stroke="#111" stroke-width="1.1" stroke-linecap="butt"/>
<text x="192.90" y="325.48" font-size="6.6" text-anchor="end" fill="#111" stroke="#111" stroke-width="0.15">0</text>
<line x1="194.40" y1="295.65" x2="196.80" y2="295.65" stroke="#111" stroke-width="1.1" stroke-linecap="butt"/>
<text x="192.90" y="298.03" font-size="6.6" text-anchor="end" fill="#111" stroke="#111" stroke-width="0.15">5</text>
<line x1="194.40" y1="268.20" x2="196.80" y2="268.20" stroke="#111" stroke-width="1.1" stroke-linecap="butt"/>
<text x="192.90" y="270.58" font-size="6.6" text-anchor="end" fill="#111" stroke="#111" stroke-width="0.15">10</text>
<line x1="196.20" y1="323.10" x2="326.60" y2="323.10" stroke="#222" stroke-width="1.3" stroke-linecap="butt"/>
<text x="0" y="2.84" font-size="7.9" text-anchor="middle" fill="#111" stroke="#111" stroke-width="0.15" transform="translate(176.00 280.00) rotate(-90)">GDF-15 serum titer [ng/ml]</text>
<line x1="213.00" y1="323.10" x2="213.00" y2="325.60" stroke="#111" stroke-width="1.1" stroke-linecap="butt"/>
<text x="213.00" y="333.35" font-size="8.2" text-anchor="middle" fill="#111" stroke="#111" stroke-width="0.15">CR</text>
<text x="213.00" y="340.68" font-size="6.6" text-anchor="middle" fill="#111" stroke="#111" stroke-width="0.15">(n=9)</text>
<line x1="245.60" y1="323.10" x2="245.60" y2="325.60" stroke="#111" stroke-width="1.1" stroke-linecap="butt"/>
<text x="245.60" y="333.35" font-size="8.2" text-anchor="middle" fill="#111" stroke="#111" stroke-width="0.15">PR</text>
<text x="245.60" y="340.68" font-size="6.6" text-anchor="middle" fill="#111" stroke="#111" stroke-width="0.15">(n=23)</text>
<line x1="277.80" y1="323.10" x2="277.80" y2="325.60" stroke="#111" stroke-width="1.1" stroke-linecap="butt"/>
<text x="277.80" y="333.35" font-size="8.2" text-anchor="middle" fill="#111" stroke="#111" stroke-width="0.15">SD</text>
<text x="277.80" y="340.68" font-size="6.6" text-anchor="middle" fill="#111" stroke="#111" stroke-width="0.15">(n=13)</text>
<line x1="310.00" y1="323.10" x2="310.00" y2="325.60" stroke="#111" stroke-width="1.1" stroke-linecap="butt"/>
<text x="310.00" y="333.35" font-size="8.2" text-anchor="middle" fill="#111" stroke="#111" stroke-width="0.15">PD</text>
<text x="310.00" y="340.68" font-size="6.6" text-anchor="middle" fill="#111" stroke="#111" stroke-width="0.15">(n=42)</text>
<text x="265.20" y="350.64" font-size="7.9" text-anchor="middle" fill="#111" stroke="#111" stroke-width="0.15">to anti PD-1 treatment</text>
<line x1="198.90" y1="347.80" x2="222.50" y2="347.80" stroke="#111" stroke-width="0.9" stroke-linecap="butt"/>
<line x1="308.00" y1="347.80" x2="326.90" y2="347.80" stroke="#111" stroke-width="0.9" stroke-linecap="butt"/>
<polyline points="212.40,208.00 212.40,205.30 309.90,205.30 309.90,208.00" fill="none" stroke="#333" stroke-width="0.9" stroke-linejoin="miter"/>
<text x="261.40" y="203.58" font-size="6.6" text-anchor="middle" fill="#111" stroke="#111" stroke-width="0.15" font-weight="bold">p = 0.0010</text>
<polyline points="212.40,218.70 212.40,216.20 277.80,216.20 277.80,218.70" fill="none" stroke="#333" stroke-width="0.9" stroke-linejoin="miter"/>
<text x="245.10" y="214.28" font-size="6.6" text-anchor="middle" fill="#333" stroke="#333" stroke-width="0.15">p = 0.4381</text>
<polyline points="280.40,218.70 280.40,216.20 309.90,216.20 309.90,218.70" fill="none" stroke="#333" stroke-width="0.9" stroke-linejoin="miter"/>
<text x="295.10" y="214.28" font-size="6.6" text-anchor="middle" fill="#333" stroke="#333" stroke-width="0.15">p = 0.256</text>
<polyline points="212.40,229.90 212.40,227.20 246.10,227.20 246.10,229.90" fill="none" stroke="#333" stroke-width="0.9" stroke-linejoin="miter"/>
<text x="229.30" y="225.08" font-size="6.6" text-anchor="middle" fill="#111" stroke="#111" stroke-width="0.15" font-weight="bold">p = 0.0372</text>
<polyline points="249.20,229.90 249.20,227.20 311.10,227.20 311.10,229.90" fill="none" stroke="#333" stroke-width="0.9" stroke-linejoin="miter"/>
<text x="283.30" y="225.08" font-size="6.6" text-anchor="middle" fill="#333" stroke="#333" stroke-width="0.15">p &gt; 0.999</text>
<polyline points="249.20,240.70 249.20,238.00 278.40,238.00 278.40,240.70" fill="none" stroke="#333" stroke-width="0.9" stroke-linejoin="miter"/>
<text x="264.50" y="235.88" font-size="6.6" text-anchor="middle" fill="#333" stroke="#333" stroke-width="0.15">p &gt; 0.999</text>
<path d="M201.55,318.85L204.45,321.75M201.55,321.75L204.45,318.85" stroke="#6e6e6e" stroke-width="0.95"/>
<path d="M204.55,320.05L207.45,322.95M204.55,322.95L207.45,320.05" stroke="#6e6e6e" stroke-width="0.95"/>
<path d="M207.55,319.35L210.45,322.25M207.55,322.25L210.45,319.35" stroke="#6e6e6e" stroke-width="0.95"/>
<path d="M210.55,320.35L213.45,323.25M210.55,323.25L213.45,320.35" stroke="#6e6e6e" stroke-width="0.95"/>
<path d="M213.55,319.15L216.45,322.05M213.55,322.05L216.45,319.15" stroke="#6e6e6e" stroke-width="0.95"/>
<path d="M216.55,320.05L219.45,322.95M216.55,322.95L219.45,320.05" stroke="#6e6e6e" stroke-width="0.95"/>
<path d="M219.55,319.45L222.45,322.35M219.55,322.35L222.45,319.45" stroke="#6e6e6e" stroke-width="0.95"/>
<path d="M211.55,317.35L214.45,320.25M211.55,320.25L214.45,317.35" stroke="#6e6e6e" stroke-width="0.95"/>
<path d="M221.55,319.05L224.45,321.95M221.55,321.95L224.45,319.05" stroke="#6e6e6e" stroke-width="0.95"/>
<line x1="201.90" y1="320.40" x2="223.70" y2="320.40" stroke="#111" stroke-width="1.3" stroke-linecap="butt"/>
<path d="M211.35,299.75L214.25,302.65M211.35,302.65L214.25,299.75" stroke="#6e6e6e" stroke-width="0.95"/>
<circle cx="204.00" cy="320.20" r="1.45" fill="#0d0d0d" stroke="none" stroke-width="0"/>
<circle cx="208.00" cy="321.60" r="1.45" fill="#0d0d0d" stroke="none" stroke-width="0"/>
<circle cx="211.00" cy="319.60" r="1.45" fill="#0d0d0d" stroke="none" stroke-width="0"/>
<circle cx="214.00" cy="321.40" r="1.45" fill="#0d0d0d" stroke="none" stroke-width="0"/>
<circle cx="217.00" cy="320.60" r="1.45" fill="#0d0d0d" stroke="none" stroke-width="0"/>
<circle cx="220.00" cy="321.60" r="1.45" fill="#0d0d0d" stroke="none" stroke-width="0"/>
<circle cx="223.00" cy="320.20" r="1.45" fill="#0d0d0d" stroke="none" stroke-width="0"/>
<circle cx="212.50" cy="318.20" r="1.45" fill="#0d0d0d" stroke="none" stroke-width="0"/>
<circle cx="206.50" cy="321.80" r="1.45" fill="#0d0d0d" stroke="none" stroke-width="0"/>
<path d="M243.85,277.05L246.75,279.95M243.85,279.95L246.75,277.05" stroke="#6e6e6e" stroke-width="0.95"/>
<path d="M234.55,317.05L237.45,319.95M234.55,319.95L237.45,317.05" stroke="#6e6e6e" stroke-width="0.95"/>
<path d="M237.55,318.55L240.45,321.45M237.55,321.45L240.45,318.55" stroke="#6e6e6e" stroke-width="0.95"/>
<path d="M240.55,316.15L243.45,319.05M240.55,319.05L243.45,316.15" stroke="#6e6e6e" stroke-width="0.95"/>
<path d="M243.55,319.55L246.45,322.45M243.55,322.45L246.45,319.55" stroke="#6e6e6e" stroke-width="0.95"/>
<path d="M246.55,317.35L249.45,320.25M246.55,320.25L249.45,317.35" stroke="#6e6e6e" stroke-width="0.95"/>
<path d="M249.55,319.15L252.45,322.05M249.55,322.05L252.45,319.15" stroke="#6e6e6e" stroke-width="0.95"/>
<path d="M252.55,316.35L255.45,319.25M252.55,319.25L255.45,316.35" stroke="#6e6e6e" stroke-width="0.95"/>
<path d="M236.55,315.05L239.45,317.95M236.55,317.95L239.45,315.05" stroke="#6e6e6e" stroke-width="0.95"/>
<path d="M250.55,314.75L253.45,317.65M250.55,317.65L253.45,314.75" stroke="#6e6e6e" stroke-width="0.95"/>
<path d="M242.55,317.75L245.45,320.65M242.55,320.65L245.45,317.75" stroke="#6e6e6e" stroke-width="0.95"/>
<line x1="234.10" y1="318.10" x2="256.50" y2="318.10" stroke="#111" stroke-width="1.4" stroke-linecap="butt"/>
<circle cx="239.20" cy="307.40" r="1.55" fill="#0d0d0d" stroke="none" stroke-width="0"/>
<circle cx="245.30" cy="308.60" r="1.55" fill="#0d0d0d" stroke="none" stroke-width="0"/>
<circle cx="249.50" cy="306.50" r="1.55" fill="#0d0d0d" stroke="none" stroke-width="0"/>
<circle cx="241.60" cy="311.00" r="1.55" fill="#0d0d0d" stroke="none" stroke-width="0"/>
<circle cx="243.40" cy="314.20" r="1.55" fill="#0d0d0d" stroke="none" stroke-width="0"/>
<circle cx="245.30" cy="313.60" r="1.55" fill="#0d0d0d" stroke="none" stroke-width="0"/>
<circle cx="249.50" cy="313.00" r="1.55" fill="#0d0d0d" stroke="none" stroke-width="0"/>
<circle cx="249.50" cy="315.20" r="1.55" fill="#0d0d0d" stroke="none" stroke-width="0"/>
<circle cx="236.50" cy="317.50" r="1.55" fill="#0d0d0d" stroke="none" stroke-width="0"/>
<circle cx="239.00" cy="318.80" r="1.55" fill="#0d0d0d" stroke="none" stroke-width="0"/>
<circle cx="241.50" cy="317.20" r="1.55" fill="#0d0d0d" stroke="none" stroke-width="0"/>
<circle cx="244.00" cy="318.60" r="1.55" fill="#0d0d0d" stroke="none" stroke-width="0"/>
<circle cx="246.50" cy="317.40" r="1.55" fill="#0d0d0d" stroke="none" stroke-width="0"/>
<circle cx="249.00" cy="318.90" r="1.55" fill="#0d0d0d" stroke="none" stroke-width="0"/>
<circle cx="251.50" cy="317.50" r="1.55" fill="#0d0d0d" stroke="none" stroke-width="0"/>
<circle cx="254.00" cy="318.50" r="1.55" fill="#0d0d0d" stroke="none" stroke-width="0"/>
<circle cx="238.00" cy="320.20" r="1.55" fill="#0d0d0d" stroke="none" stroke-width="0"/>
<circle cx="241.00" cy="321.00" r="1.55" fill="#0d0d0d" stroke="none" stroke-width="0"/>
<circle cx="244.50" cy="320.60" r="1.55" fill="#0d0d0d" stroke="none" stroke-width="0"/>
<circle cx="248.00" cy="321.20" r="1.55" fill="#0d0d0d" stroke="none" stroke-width="0"/>
<circle cx="251.50" cy="320.30" r="1.55" fill="#0d0d0d" stroke="none" stroke-width="0"/>
<circle cx="246.00" cy="322.00" r="1.55" fill="#0d0d0d" stroke="none" stroke-width="0"/>
<circle cx="242.50" cy="316.00" r="1.55" fill="#0d0d0d" stroke="none" stroke-width="0"/>
<path d="M276.15,279.95L279.05,282.85M276.15,282.85L279.05,279.95" stroke="#6e6e6e" stroke-width="0.95"/>
<path d="M276.05,296.85L278.95,299.75M276.05,299.75L278.95,296.85" stroke="#6e6e6e" stroke-width="0.95"/>
<path d="M268.55,319.05L271.45,321.95M268.55,321.95L271.45,319.05" stroke="#6e6e6e" stroke-width="0.95"/>
<path d="M272.55,320.35L275.45,323.25M272.55,323.25L275.45,320.35" stroke="#6e6e6e" stroke-width="0.95"/>
<path d="M279.55,320.05L282.45,322.95M279.55,322.95L282.45,320.05" stroke="#6e6e6e" stroke-width="0.95"/>
<path d="M283.55,318.75L286.45,321.65M283.55,321.65L286.45,318.75" stroke="#6e6e6e" stroke-width="0.95"/>
<path d="M270.55,316.75L273.45,319.65M270.55,319.65L273.45,316.75" stroke="#6e6e6e" stroke-width="0.95"/>
<path d="M281.55,317.05L284.45,319.95M281.55,319.95L284.45,317.05" stroke="#6e6e6e" stroke-width="0.95"/>
<line x1="266.80" y1="319.40" x2="288.70" y2="319.40" stroke="#111" stroke-width="1.3" stroke-linecap="butt"/>
<circle cx="277.50" cy="310.50" r="1.55" fill="#0d0d0d" stroke="none" stroke-width="0"/>
<circle cx="273.60" cy="315.80" r="1.55" fill="#0d0d0d" stroke="none" stroke-width="0"/>
<circle cx="281.70" cy="316.10" r="1.55" fill="#0d0d0d" stroke="none" stroke-width="0"/>
<circle cx="271.50" cy="319.30" r="1.55" fill="#0d0d0d" stroke="none" stroke-width="0"/>
<circle cx="275.00" cy="320.80" r="1.55" fill="#0d0d0d" stroke="none" stroke-width="0"/>
<circle cx="278.00" cy="319.50" r="1.55" fill="#0d0d0d" stroke="none" stroke-width="0"/>
<circle cx="280.50" cy="321.20" r="1.55" fill="#0d0d0d" stroke="none" stroke-width="0"/>
<circle cx="283.50" cy="319.80" r="1.55" fill="#0d0d0d" stroke="none" stroke-width="0"/>
<circle cx="276.50" cy="322.20" r="1.55" fill="#0d0d0d" stroke="none" stroke-width="0"/>
<circle cx="269.00" cy="320.60" r="1.55" fill="#0d0d0d" stroke="none" stroke-width="0"/>
<circle cx="286.00" cy="320.30" r="1.55" fill="#0d0d0d" stroke="none" stroke-width="0"/>
<path d="M306.35,237.05L309.25,239.95M306.35,239.95L309.25,237.05" stroke="#6e6e6e" stroke-width="0.95"/>
<path d="M310.85,237.05L313.75,239.95M310.85,239.95L313.75,237.05" stroke="#6e6e6e" stroke-width="0.95"/>
<path d="M304.55,256.05L307.45,258.95M304.55,258.95L307.45,256.05" stroke="#6e6e6e" stroke-width="0.95"/>
<path d="M308.75,259.65L311.65,262.55M308.75,262.55L311.65,259.65" stroke="#6e6e6e" stroke-width="0.95"/>
<path d="M312.85,256.65L315.75,259.55M312.85,259.55L315.75,256.65" stroke="#6e6e6e" stroke-width="0.95"/>
<path d="M304.55,269.95L307.45,272.85M304.55,272.85L307.45,269.95" stroke="#6e6e6e" stroke-width="0.95"/>
<path d="M308.75,270.35L311.65,273.25M308.75,273.25L311.65,270.35" stroke="#6e6e6e" stroke-width="0.95"/>
<path d="M312.85,269.15L315.75,272.05M312.85,272.05L315.75,269.15" stroke="#6e6e6e" stroke-width="0.95"/>
<path d="M310.85,278.65L313.75,281.55M310.85,281.55L313.75,278.65" stroke="#6e6e6e" stroke-width="0.95"/>
<path d="M306.55,281.85L309.45,284.75M306.55,284.75L309.45,281.85" stroke="#6e6e6e" stroke-width="0.95"/>
<path d="M306.55,287.55L309.45,290.45M306.55,290.45L309.45,287.55" stroke="#6e6e6e" stroke-width="0.95"/>
<path d="M310.85,288.95L313.75,291.85M310.85,291.85L313.75,288.95" stroke="#6e6e6e" stroke-width="0.95"/>
<path d="M304.55,291.45L307.45,294.35M304.55,294.35L307.45,291.45" stroke="#6e6e6e" stroke-width="0.95"/>
<path d="M312.75,292.45L315.65,295.35M312.75,295.35L315.65,292.45" stroke="#6e6e6e" stroke-width="0.95"/>
<path d="M308.55,295.35L311.45,298.25M308.55,298.25L311.45,295.35" stroke="#6e6e6e" stroke-width="0.95"/>
<path d="M306.75,298.85L309.65,301.75M306.75,301.75L309.65,298.85" stroke="#6e6e6e" stroke-width="0.95"/>
<path d="M310.65,300.65L313.55,303.55M310.65,303.55L313.55,300.65" stroke="#6e6e6e" stroke-width="0.95"/>
<path d="M310.65,309.95L313.55,312.85M310.65,312.85L313.55,309.95" stroke="#6e6e6e" stroke-width="0.95"/>
<path d="M299.95,317.75L302.85,320.65M299.95,320.65L302.85,317.75" stroke="#6e6e6e" stroke-width="0.95"/>
<path d="M299.05,314.05L301.95,316.95M299.05,316.95L301.95,314.05" stroke="#6e6e6e" stroke-width="0.95"/>
<path d="M302.55,315.35L305.45,318.25M302.55,318.25L305.45,315.35" stroke="#6e6e6e" stroke-width="0.95"/>
<path d="M311.05,315.55L313.95,318.45M311.05,318.45L313.95,315.55" stroke="#6e6e6e" stroke-width="0.95"/>
<path d="M318.05,313.75L320.95,316.65M318.05,316.65L320.95,313.75" stroke="#6e6e6e" stroke-width="0.95"/>
<path d="M305.35,319.05L308.25,321.95M305.35,321.95L308.25,319.05" stroke="#6e6e6e" stroke-width="0.95"/>
<path d="M311.55,319.55L314.45,322.45M311.55,322.45L314.45,319.55" stroke="#6e6e6e" stroke-width="0.95"/>
<path d="M318.55,317.15L321.45,320.05M318.55,320.05L321.45,317.15" stroke="#6e6e6e" stroke-width="0.95"/>
<path d="M307.55,320.55L310.45,323.45M307.55,323.45L310.45,320.55" stroke="#6e6e6e" stroke-width="0.95"/>
<path d="M302.05,320.75L304.95,323.65M302.05,323.65L304.95,320.75" stroke="#6e6e6e" stroke-width="0.95"/>
<circle cx="310.20" cy="250.60" r="1.7" fill="#0d0d0d" stroke="none" stroke-width="0"/>
<line x1="298.90" y1="315.30" x2="321.00" y2="315.30" stroke="#111" stroke-width="1.3" stroke-linecap="butt"/>
<circle cx="308.20" cy="314.10" r="1.6" fill="#0d0d0d" stroke="none" stroke-width="0"/>
<circle cx="316.70" cy="315.80" r="1.6" fill="#0d0d0d" stroke="none" stroke-width="0"/>
<circle cx="305.70" cy="317.70" r="1.6" fill="#0d0d0d" stroke="none" stroke-width="0"/>
<circle cx="310.00" cy="318.90" r="1.6" fill="#0d0d0d" stroke="none" stroke-width="0"/>
<circle cx="304.30" cy="321.00" r="1.6" fill="#0d0d0d" stroke="none" stroke-width="0"/>
<circle cx="315.00" cy="321.40" r="1.6" fill="#0d0d0d" stroke="none" stroke-width="0"/>
<circle cx="317.40" cy="320.60" r="1.6" fill="#0d0d0d" stroke="none" stroke-width="0"/>
<circle cx="314.00" cy="321.80" r="1.6" fill="#0d0d0d" stroke="none" stroke-width="0"/>
<circle cx="318.50" cy="321.50" r="1.6" fill="#0d0d0d" stroke="none" stroke-width="0"/>
<text x="347.40" y="198.70" font-size="10" text-anchor="start" fill="#111" stroke="#111" stroke-width="0.15" font-weight="bold">g</text>
<rect x="382" y="221.2" width="124.30000000000001" height="100.19999999999999" fill="none" stroke="#111" stroke-width="1"/>
<line x1="379.60" y1="317.40" x2="382.00" y2="317.40" stroke="#111" stroke-width="1.1" stroke-linecap="butt"/>
<text x="378.40" y="319.81" font-size="6.7" text-anchor="end" fill="#111" stroke="#111" stroke-width="0.15">0.0</text>
<line x1="379.60" y1="299.02" x2="382.00" y2="299.02" stroke="#111" stroke-width="1.1" stroke-linecap="butt"/>
<text x="378.40" y="301.43" font-size="6.7" text-anchor="end" fill="#111" stroke="#111" stroke-width="0.15">0.2</text>
<line x1="379.60" y1="280.64" x2="382.00" y2="280.64" stroke="#111" stroke-width="1.1" stroke-linecap="butt"/>
<text x="378.40" y="283.05" font-size="6.7" text-anchor="end" fill="#111" stroke="#111" stroke-width="0.15">0.4</text>
<line x1="379.60" y1="262.26" x2="382.00" y2="262.26" stroke="#111" stroke-width="1.1" stroke-linecap="butt"/>
<text x="378.40" y="264.67" font-size="6.7" text-anchor="end" fill="#111" stroke="#111" stroke-width="0.15">0.6</text>
<line x1="379.60" y1="243.88" x2="382.00" y2="243.88" stroke="#111" stroke-width="1.1" stroke-linecap="butt"/>
<text x="378.40" y="246.29" font-size="6.7" text-anchor="end" fill="#111" stroke="#111" stroke-width="0.15">0.8</text>
<line x1="379.60" y1="225.50" x2="382.00" y2="225.50" stroke="#111" stroke-width="1.1" stroke-linecap="butt"/>
<text x="378.40" y="227.91" font-size="6.7" text-anchor="end" fill="#111" stroke="#111" stroke-width="0.15">1.0</text>
<line x1="386.10" y1="321.40" x2="386.10" y2="323.80" stroke="#111" stroke-width="1.1" stroke-linecap="butt"/>
<text x="386.10" y="332.31" font-size="6.7" text-anchor="middle" fill="#111" stroke="#111" stroke-width="0.15">0</text>
<line x1="414.90" y1="321.40" x2="414.90" y2="323.80" stroke="#111" stroke-width="1.1" stroke-linecap="butt"/>
<text x="414.90" y="332.31" font-size="6.7" text-anchor="middle" fill="#111" stroke="#111" stroke-width="0.15">10</text>
<line x1="443.70" y1="321.40" x2="443.70" y2="323.80" stroke="#111" stroke-width="1.1" stroke-linecap="butt"/>
<text x="443.70" y="332.31" font-size="6.7" text-anchor="middle" fill="#111" stroke="#111" stroke-width="0.15">20</text>
<line x1="472.50" y1="321.40" x2="472.50" y2="323.80" stroke="#111" stroke-width="1.1" stroke-linecap="butt"/>
<text x="472.50" y="332.31" font-size="6.7" text-anchor="middle" fill="#111" stroke="#111" stroke-width="0.15">30</text>
<line x1="501.30" y1="321.40" x2="501.30" y2="323.80" stroke="#111" stroke-width="1.1" stroke-linecap="butt"/>
<text x="501.30" y="332.31" font-size="6.7" text-anchor="middle" fill="#111" stroke="#111" stroke-width="0.15">40</text>
<text x="446.70" y="342.64" font-size="7.9" text-anchor="middle" fill="#111" stroke="#111" stroke-width="0.15">GDF-15 [ng/ml]</text>
<text x="0" y="2.84" font-size="7.9" text-anchor="middle" fill="#111" stroke="#111" stroke-width="0.15" transform="translate(354.20 271.50) rotate(-90)">Probability of response to treatment</text>
<text x="0" y="2.84" font-size="7.9" text-anchor="middle" fill="#111" stroke="#111" stroke-width="0.15" transform="translate(363.30 274.50) rotate(-90)">(CR or PR)</text>
<line x1="386.10" y1="222.70" x2="386.10" y2="320.90" stroke="#111" stroke-width="1.25" stroke-dasharray="4,1.8" stroke-linecap="butt"/>
<polyline points="386.10,273.29 386.39,273.86 386.68,274.44 386.96,275.01 387.25,275.58 387.54,276.15 387.83,276.72 388.12,277.29 388.40,277.86 388.69,278.42 388.98,278.99 389.27,279.55 389.56,280.10 389.84,280.66 390.13,281.21 390.42,281.76 390.71,282.31 391.00,282.85 391.28,283.39 391.57,283.92 391.86,284.46 392.15,284.98 392.44,285.51 392.72,286.03 393.01,286.55 393.30,287.06 393.59,287.57 393.88,288.07 394.16,288.57 394.45,289.06 394.74,289.55 395.03,290.04 395.32,290.52 395.60,290.99 395.89,291.46 396.18,291.93 396.47,292.39 396.76,292.84 397.04,293.29 397.33,293.73 397.62,294.17 397.91,294.61 398.20,295.03 398.48,295.45 398.77,295.87 399.06,296.28 399.35,296.69 399.64,297.09 399.92,297.48 400.21,297.87 400.50,298.25 400.79,298.63 401.08,299.00 401.36,299.37 401.65,299.73 401.94,300.09 402.23,300.44 402.52,300.78 402.80,301.12 403.09,301.45 403.38,301.78 403.67,302.10 403.96,302.42 404.24,302.73 404.53,303.04 404.82,303.34 405.11,303.64 405.40,303.93 405.68,304.22 405.97,304.50 406.26,304.77 406.55,305.04 406.84,305.31 407.12,305.57 407.41,305.83 407.70,306.08 407.99,306.33 408.28,306.57 408.56,306.80 408.85,307.04 409.14,307.27 409.43,307.49 409.72,307.71 410.00,307.93 410.29,308.14 410.58,308.34 410.87,308.55 411.16,308.75 411.44,308.94 411.73,309.13 412.02,309.32 412.31,309.50 412.60,309.68 412.88,309.86 413.17,310.03 413.46,310.20 413.75,310.36 414.04,310.52 414.32,310.68 414.61,310.84 414.90,310.99 415.19,311.13 415.48,311.28 415.76,311.42 416.05,311.56 416.34,311.70 416.63,311.83 416.92,311.96 417.20,312.09 417.49,312.21 417.78,312.33 418.07,312.45 418.36,312.57 418.64,312.68 418.93,312.79 419.22,312.90 419.51,313.01 419.80,313.11 420.08,313.21 420.37,313.31 420.66,313.41 420.95,313.50 421.24,313.60 421.52,313.69 421.81,313.77 422.10,313.86 422.39,313.95 422.68,314.03 422.96,314.11 423.25,314.19 423.54,314.26 423.83,314.34 424.12,314.41 424.40,314.48 424.69,314.55 424.98,314.62 425.27,314.69 425.56,314.75 425.84,314.82 426.13,314.88 426.42,314.94 426.71,315.00 427.00,315.06 427.28,315.12 427.57,315.17 427.86,315.22 428.15,315.28 428.44,315.33 428.72,315.38 429.01,315.43 429.30,315.48 429.59,315.52 429.88,315.57 430.16,315.61 430.45,315.66 430.74,315.70 431.03,315.74 431.32,315.78 431.60,315.82 431.89,315.86 432.18,315.90 432.47,315.93 432.76,315.97 433.04,316.00 433.33,316.04 433.62,316.07 433.91,316.10 434.20,316.13 434.48,316.17 434.77,316.20 435.06,316.23 435.35,316.25 435.64,316.28 435.92,316.31 436.21,316.34 436.50,316.36 436.79,316.39 437.08,316.41 437.36,316.44 437.65,316.46 437.94,316.48 438.23,316.51 438.52,316.53 438.80,316.55 439.09,316.57 439.38,316.59 439.67,316.61 439.96,316.63 440.24,316.65 440.53,316.67 440.82,316.69 441.11,316.70 441.40,316.72 441.68,316.74 441.97,316.75 442.26,316.77 442.55,316.78 442.84,316.80 443.12,316.81 443.41,316.83 443.70,316.84 443.99,316.86 444.28,316.87 444.56,316.88 444.85,316.90 445.14,316.91 445.43,316.92 445.72,316.93 446.00,316.94 446.29,316.96 446.58,316.97 446.87,316.98 447.16,316.99 447.44,317.00 447.73,317.01 448.02,317.02 448.31,317.03 448.60,317.04 448.88,317.04 449.17,317.05 449.46,317.06 449.75,317.07 450.04,317.08 450.32,317.09 450.61,317.09 450.90,317.10 451.19,317.11 451.48,317.12 451.76,317.12 452.05,317.13 452.34,317.14 452.63,317.14 452.92,317.15 453.20,317.16 453.49,317.16 453.78,317.17 454.07,317.17 454.36,317.18 454.64,317.18 454.93,317.19 455.22,317.20 455.51,317.20 455.80,317.21 456.08,317.21 456.37,317.21 456.66,317.22 456.95,317.22 457.24,317.23 457.52,317.23 457.81,317.24 458.10,317.24 458.39,317.24 458.68,317.25 458.96,317.25 459.25,317.26 459.54,317.26 459.83,317.26 460.12,317.27 460.40,317.27 460.69,317.27 460.98,317.28 461.27,317.28 461.56,317.28 461.84,317.28 462.13,317.29 462.42,317.29 462.71,317.29 463.00,317.30 463.28,317.30 463.57,317.30 463.86,317.30 464.15,317.31 464.44,317.31 464.72,317.31 465.01,317.31 465.30,317.31 465.59,317.32 465.88,317.32 466.16,317.32 466.45,317.32 466.74,317.32 467.03,317.33 467.32,317.33 467.60,317.33 467.89,317.33 468.18,317.33 468.47,317.34 468.76,317.34 469.04,317.34 469.33,317.34 469.62,317.34 469.91,317.34 470.20,317.34 470.48,317.35 470.77,317.35 471.06,317.35 471.35,317.35 471.64,317.35 471.92,317.35 472.21,317.35 472.50,317.35 472.79,317.36 473.08,317.36 473.36,317.36 473.65,317.36 473.94,317.36 474.23,317.36 474.52,317.36 474.80,317.36 475.09,317.36 475.38,317.36 475.67,317.37 475.96,317.37 476.24,317.37 476.53,317.37 476.82,317.37 477.11,317.37 477.40,317.37 477.68,317.37 477.97,317.37 478.26,317.37 478.55,317.37 478.84,317.37 479.12,317.37 479.41,317.38 479.70,317.38 479.99,317.38 480.28,317.38 480.56,317.38 480.85,317.38 481.14,317.38 481.43,317.38 481.72,317.38 482.00,317.38 482.29,317.38 482.58,317.38 482.87,317.38 483.16,317.38 483.44,317.38 483.73,317.38 484.02,317.38 484.31,317.38 484.60,317.38 484.88,317.38 485.17,317.38 485.46,317.39 485.75,317.39 486.04,317.39 486.32,317.39 486.61,317.39 486.90,317.39 487.19,317.39 487.48,317.39 487.76,317.39 488.05,317.39 488.34,317.39 488.63,317.39 488.92,317.39 489.20,317.39 489.49,317.39 489.78,317.39 490.07,317.39 490.36,317.39 490.64,317.39 490.93,317.39 491.22,317.39 491.51,317.39 491.80,317.39 492.08,317.39 492.37,317.39 492.66,317.39 492.95,317.39 493.24,317.39 493.52,317.39 493.81,317.39 494.10,317.39 494.39,317.39 494.68,317.39 494.96,317.39 495.25,317.39 495.54,317.39 495.83,317.39 496.12,317.39 496.40,317.39 496.69,317.39 496.98,317.39 497.27,317.39 497.56,317.39 497.84,317.39 498.13,317.40 498.42,317.40 498.71,317.40 499.00,317.40 499.28,317.40 499.57,317.40 499.86,317.40 500.15,317.40 500.44,317.40 500.72,317.40 501.01,317.40 501.30,317.40 501.59,317.40 501.88,317.40 502.16,317.40 502.45,317.40 502.74,317.40 503.03,317.40 503.32,317.40 503.60,317.40 503.89,317.40 504.18,317.40 504.47,317.40 504.76,317.40 505.04,317.40 505.33,317.40 505.62,317.40" fill="none" stroke="#1a1a1a" stroke-width="1.1" stroke-linejoin="miter"/>
<circle cx="386.30" cy="225.50" r="1.3" fill="#6aaee0" stroke="#4390d0" stroke-width="0.5"/>
<circle cx="388.00" cy="225.50" r="1.3" fill="#6aaee0" stroke="#4390d0" stroke-width="0.5"/>
<circle cx="389.50" cy="225.50" r="1.3" fill="#6aaee0" stroke="#4390d0" stroke-width="0.5"/>
<circle cx="391.00" cy="225.50" r="1.3" fill="#6aaee0" stroke="#4390d0" stroke-width="0.5"/>
<circle cx="392.50" cy="225.50" r="1.3" fill="#6aaee0" stroke="#4390d0" stroke-width="0.5"/>
<circle cx="394.00" cy="225.50" r="1.3" fill="#6aaee0" stroke="#4390d0" stroke-width="0.5"/>
<circle cx="395.80" cy="225.50" r="1.3" fill="#6aaee0" stroke="#4390d0" stroke-width="0.5"/>
<circle cx="410.10" cy="225.50" r="1.3" fill="#6aaee0" stroke="#4390d0" stroke-width="0.5"/>
<circle cx="386.30" cy="317.40" r="1.3" fill="#6aaee0" stroke="#4390d0" stroke-width="0.5"/>
<circle cx="388.00" cy="317.40" r="1.3" fill="#6aaee0" stroke="#4390d0" stroke-width="0.5"/>
<circle cx="389.50" cy="317.40" r="1.3" fill="#6aaee0" stroke="#4390d0" stroke-width="0.5"/>
<circle cx="391.00" cy="317.40" r="1.3" fill="#6aaee0" stroke="#4390d0" stroke-width="0.5"/>
<circle cx="393.00" cy="317.40" r="1.3" fill="#6aaee0" stroke="#4390d0" stroke-width="0.5"/>
<circle cx="397.50" cy="317.40" r="1.3" fill="#6aaee0" stroke="#4390d0" stroke-width="0.5"/>
<circle cx="399.50" cy="317.40" r="1.3" fill="#6aaee0" stroke="#4390d0" stroke-width="0.5"/>
<circle cx="401.50" cy="317.40" r="1.3" fill="#6aaee0" stroke="#4390d0" stroke-width="0.5"/>
<circle cx="403.50" cy="317.40" r="1.3" fill="#6aaee0" stroke="#4390d0" stroke-width="0.5"/>
<circle cx="405.50" cy="317.40" r="1.3" fill="#6aaee0" stroke="#4390d0" stroke-width="0.5"/>
<circle cx="407.50" cy="317.40" r="1.3" fill="#6aaee0" stroke="#4390d0" stroke-width="0.5"/>
<circle cx="409.30" cy="317.40" r="1.3" fill="#6aaee0" stroke="#4390d0" stroke-width="0.5"/>
<circle cx="414.10" cy="317.40" r="1.3" fill="#6aaee0" stroke="#4390d0" stroke-width="0.5"/>
<circle cx="421.30" cy="317.40" r="1.3" fill="#6aaee0" stroke="#4390d0" stroke-width="0.5"/>
<circle cx="439.00" cy="317.40" r="1.3" fill="#6aaee0" stroke="#4390d0" stroke-width="0.5"/>
<circle cx="442.40" cy="317.40" r="1.3" fill="#6aaee0" stroke="#4390d0" stroke-width="0.5"/>
<circle cx="486.20" cy="317.40" r="1.3" fill="#2f5f9a" stroke="#24508a" stroke-width="0.5"/>
<text x="500.10" y="235.58" font-size="6.6" text-anchor="end" fill="#111" stroke="#111" stroke-width="0.15">OR = 0.778 per ng/ml increase</text>
<text x="500.10" y="244.38" font-size="6.6" text-anchor="end" fill="#111" stroke="#111" stroke-width="0.15">in GDF-15</text>
<text x="500.10" y="253.18" font-size="6.6" text-anchor="end" fill="#111" stroke="#111" stroke-width="0.15">95% CI [0.590, 0.938]</text>
<text x="500.10" y="262.08" font-size="6.6" text-anchor="end" fill="#111" stroke="#111" stroke-width="0.15">p =0.0315</text>
<text x="500.10" y="270.58" font-size="6.6" text-anchor="end" fill="#111" stroke="#111" stroke-width="0.15">(n=87)</text>
<text x="525.50" y="198.40" font-size="10" text-anchor="start" fill="#111" stroke="#111" stroke-width="0.15" font-weight="bold">h</text>
<rect x="561.1" y="221.2" width="123.39999999999998" height="100.40000000000003" fill="none" stroke="#111" stroke-width="1"/>
<line x1="558.70" y1="317.90" x2="561.10" y2="317.90" stroke="#111" stroke-width="1.1" stroke-linecap="butt"/>
<text x="557.50" y="320.31" font-size="6.7" text-anchor="end" fill="#111" stroke="#111" stroke-width="0.15">0.0</text>
<line x1="558.70" y1="299.42" x2="561.10" y2="299.42" stroke="#111" stroke-width="1.1" stroke-linecap="butt"/>
<text x="557.50" y="301.83" font-size="6.7" text-anchor="end" fill="#111" stroke="#111" stroke-width="0.15">0.2</text>
<line x1="558.70" y1="280.94" x2="561.10" y2="280.94" stroke="#111" stroke-width="1.1" stroke-linecap="butt"/>
<text x="557.50" y="283.35" font-size="6.7" text-anchor="end" fill="#111" stroke="#111" stroke-width="0.15">0.4</text>
<line x1="558.70" y1="262.46" x2="561.10" y2="262.46" stroke="#111" stroke-width="1.1" stroke-linecap="butt"/>
<text x="557.50" y="264.87" font-size="6.7" text-anchor="end" fill="#111" stroke="#111" stroke-width="0.15">0.6</text>
<line x1="558.70" y1="243.98" x2="561.10" y2="243.98" stroke="#111" stroke-width="1.1" stroke-linecap="butt"/>
<text x="557.50" y="246.39" font-size="6.7" text-anchor="end" fill="#111" stroke="#111" stroke-width="0.15">0.8</text>
<line x1="558.70" y1="225.50" x2="561.10" y2="225.50" stroke="#111" stroke-width="1.1" stroke-linecap="butt"/>
<text x="557.50" y="227.91" font-size="6.7" text-anchor="end" fill="#111" stroke="#111" stroke-width="0.15">1.0</text>
<line x1="564.50" y1="321.60" x2="564.50" y2="324.00" stroke="#111" stroke-width="1.1" stroke-linecap="butt"/>
<text x="564.50" y="332.31" font-size="6.7" text-anchor="middle" fill="#111" stroke="#111" stroke-width="0.15">0</text>
<line x1="593.30" y1="321.60" x2="593.30" y2="324.00" stroke="#111" stroke-width="1.1" stroke-linecap="butt"/>
<text x="593.30" y="332.31" font-size="6.7" text-anchor="middle" fill="#111" stroke="#111" stroke-width="0.15">10</text>
<line x1="622.10" y1="321.60" x2="622.10" y2="324.00" stroke="#111" stroke-width="1.1" stroke-linecap="butt"/>
<text x="622.10" y="332.31" font-size="6.7" text-anchor="middle" fill="#111" stroke="#111" stroke-width="0.15">20</text>
<line x1="650.90" y1="321.60" x2="650.90" y2="324.00" stroke="#111" stroke-width="1.1" stroke-linecap="butt"/>
<text x="650.90" y="332.31" font-size="6.7" text-anchor="middle" fill="#111" stroke="#111" stroke-width="0.15">30</text>
<line x1="679.70" y1="321.60" x2="679.70" y2="324.00" stroke="#111" stroke-width="1.1" stroke-linecap="butt"/>
<text x="679.70" y="332.31" font-size="6.7" text-anchor="middle" fill="#111" stroke="#111" stroke-width="0.15">40</text>
<text x="621.20" y="343.28" font-size="6.6" text-anchor="middle" fill="#111" stroke="#111" stroke-width="0.15">GDF-15 [ng/ml]</text>
<text x="0" y="2.84" font-size="7.9" text-anchor="middle" fill="#111" stroke="#111" stroke-width="0.15" transform="translate(533.40 272.00) rotate(-90)">Probability of disease control</text>
<text x="0" y="2.84" font-size="7.9" text-anchor="middle" fill="#111" stroke="#111" stroke-width="0.15" transform="translate(542.20 273.00) rotate(-90)">(CR, PR or SD)</text>
<line x1="572.50" y1="222.70" x2="572.50" y2="321.10" stroke="#111" stroke-width="1.25" stroke-dasharray="4,1.8" stroke-linecap="butt"/>
<polyline points="564.50,256.00 564.79,256.52 565.08,257.06 565.36,257.59 565.65,258.14 565.94,258.68 566.23,259.23 566.52,259.78 566.80,260.34 567.09,260.90 567.38,261.47 567.67,262.03 567.96,262.60 568.24,263.18 568.53,263.75 568.82,264.33 569.11,264.91 569.40,265.49 569.68,266.08 569.97,266.67 570.26,267.26 570.55,267.85 570.84,268.44 571.12,269.03 571.41,269.62 571.70,270.22 571.99,270.81 572.28,271.41 572.56,272.00 572.85,272.60 573.14,273.19 573.43,273.78 573.72,274.38 574.00,274.97 574.29,275.56 574.58,276.15 574.87,276.74 575.16,277.33 575.44,277.91 575.73,278.49 576.02,279.07 576.31,279.65 576.60,280.23 576.88,280.80 577.17,281.37 577.46,281.94 577.75,282.50 578.04,283.06 578.32,283.62 578.61,284.17 578.90,284.72 579.19,285.27 579.48,285.81 579.76,286.35 580.05,286.88 580.34,287.41 580.63,287.93 580.92,288.45 581.20,288.97 581.49,289.48 581.78,289.98 582.07,290.48 582.36,290.97 582.64,291.46 582.93,291.94 583.22,292.42 583.51,292.90 583.80,293.36 584.08,293.82 584.37,294.28 584.66,294.73 584.95,295.17 585.24,295.61 585.52,296.04 585.81,296.47 586.10,296.89 586.39,297.31 586.68,297.72 586.96,298.12 587.25,298.52 587.54,298.91 587.83,299.29 588.12,299.67 588.40,300.05 588.69,300.41 588.98,300.78 589.27,301.13 589.56,301.48 589.84,301.83 590.13,302.17 590.42,302.50 590.71,302.83 591.00,303.15 591.28,303.47 591.57,303.78 591.86,304.08 592.15,304.38 592.44,304.68 592.72,304.97 593.01,305.25 593.30,305.53 593.59,305.80 593.88,306.07 594.16,306.33 594.45,306.59 594.74,306.84 595.03,307.09 595.32,307.34 595.60,307.57 595.89,307.81 596.18,308.04 596.47,308.26 596.76,308.48 597.04,308.70 597.33,308.91 597.62,309.12 597.91,309.32 598.20,309.52 598.48,309.71 598.77,309.90 599.06,310.09 599.35,310.27 599.64,310.45 599.92,310.62 600.21,310.79 600.50,310.96 600.79,311.12 601.08,311.28 601.36,311.44 601.65,311.59 601.94,311.74 602.23,311.89 602.52,312.03 602.80,312.17 603.09,312.31 603.38,312.44 603.67,312.57 603.96,312.70 604.24,312.83 604.53,312.95 604.82,313.07 605.11,313.18 605.40,313.30 605.68,313.41 605.97,313.52 606.26,313.62 606.55,313.73 606.84,313.83 607.12,313.93 607.41,314.03 607.70,314.12 607.99,314.21 608.28,314.30 608.56,314.39 608.85,314.48 609.14,314.56 609.43,314.64 609.72,314.72 610.00,314.80 610.29,314.88 610.58,314.95 610.87,315.02 611.16,315.09 611.44,315.16 611.73,315.23 612.02,315.30 612.31,315.36 612.60,315.42 612.88,315.49 613.17,315.54 613.46,315.60 613.75,315.66 614.04,315.72 614.32,315.77 614.61,315.82 614.90,315.87 615.19,315.93 615.48,315.97 615.76,316.02 616.05,316.07 616.34,316.11 616.63,316.16 616.92,316.20 617.20,316.24 617.49,316.29 617.78,316.33 618.07,316.37 618.36,316.40 618.64,316.44 618.93,316.48 619.22,316.51 619.51,316.55 619.80,316.58 620.08,316.62 620.37,316.65 620.66,316.68 620.95,316.71 621.24,316.74 621.52,316.77 621.81,316.80 622.10,316.82 622.39,316.85 622.68,316.88 622.96,316.90 623.25,316.93 623.54,316.95 623.83,316.98 624.12,317.00 624.40,317.02 624.69,317.05 624.98,317.07 625.27,317.09 625.56,317.11 625.84,317.13 626.13,317.15 626.42,317.17 626.71,317.19 627.00,317.20 627.28,317.22 627.57,317.24 627.86,317.25 628.15,317.27 628.44,317.29 628.72,317.30 629.01,317.32 629.30,317.33 629.59,317.35 629.88,317.36 630.16,317.37 630.45,317.39 630.74,317.40 631.03,317.41 631.32,317.43 631.60,317.44 631.89,317.45 632.18,317.46 632.47,317.47 632.76,317.48 633.04,317.49 633.33,317.50 633.62,317.51 633.91,317.52 634.20,317.53 634.48,317.54 634.77,317.55 635.06,317.56 635.35,317.57 635.64,317.58 635.92,317.59 636.21,317.59 636.50,317.60 636.79,317.61 637.08,317.62 637.36,317.62 637.65,317.63 637.94,317.64 638.23,317.64 638.52,317.65 638.80,317.66 639.09,317.66 639.38,317.67 639.67,317.67 639.96,317.68 640.24,317.69 640.53,317.69 640.82,317.70 641.11,317.70 641.40,317.71 641.68,317.71 641.97,317.72 642.26,317.72 642.55,317.73 642.84,317.73 643.12,317.73 643.41,317.74 643.70,317.74 643.99,317.75 644.28,317.75 644.56,317.75 644.85,317.76 645.14,317.76 645.43,317.77 645.72,317.77 646.00,317.77 646.29,317.78 646.58,317.78 646.87,317.78 647.16,317.78 647.44,317.79 647.73,317.79 648.02,317.79 648.31,317.80 648.60,317.80 648.88,317.80 649.17,317.80 649.46,317.81 649.75,317.81 650.04,317.81 650.32,317.81 650.61,317.82 650.90,317.82 651.19,317.82 651.48,317.82 651.76,317.82 652.05,317.83 652.34,317.83 652.63,317.83 652.92,317.83 653.20,317.83 653.49,317.83 653.78,317.84 654.07,317.84 654.36,317.84 654.64,317.84 654.93,317.84 655.22,317.84 655.51,317.85 655.80,317.85 656.08,317.85 656.37,317.85 656.66,317.85 656.95,317.85 657.24,317.85 657.52,317.85 657.81,317.86 658.10,317.86 658.39,317.86 658.68,317.86 658.96,317.86 659.25,317.86 659.54,317.86 659.83,317.86 660.12,317.86 660.40,317.86 660.69,317.87 660.98,317.87 661.27,317.87 661.56,317.87 661.84,317.87 662.13,317.87 662.42,317.87 662.71,317.87 663.00,317.87 663.28,317.87 663.57,317.87 663.86,317.87 664.15,317.87 664.44,317.88 664.72,317.88 665.01,317.88 665.30,317.88 665.59,317.88 665.88,317.88 666.16,317.88 666.45,317.88 666.74,317.88 667.03,317.88 667.32,317.88 667.60,317.88 667.89,317.88 668.18,317.88 668.47,317.88 668.76,317.88 669.04,317.88 669.33,317.88 669.62,317.88 669.91,317.88 670.20,317.89 670.48,317.89 670.77,317.89 671.06,317.89 671.35,317.89 671.64,317.89 671.92,317.89 672.21,317.89 672.50,317.89 672.79,317.89 673.08,317.89 673.36,317.89 673.65,317.89 673.94,317.89 674.23,317.89 674.52,317.89 674.80,317.89 675.09,317.89 675.38,317.89 675.67,317.89 675.96,317.89 676.24,317.89 676.53,317.89 676.82,317.89 677.11,317.89 677.40,317.89 677.68,317.89 677.97,317.89 678.26,317.89 678.55,317.89 678.84,317.89 679.12,317.89 679.41,317.89 679.70,317.89 679.99,317.89 680.28,317.89 680.56,317.89 680.85,317.89 681.14,317.89 681.43,317.89 681.72,317.89 682.00,317.89 682.29,317.89 682.58,317.90 682.87,317.90 683.16,317.90 683.44,317.90 683.73,317.90" fill="none" stroke="#1a1a1a" stroke-width="1.1" stroke-linejoin="miter"/>
<circle cx="564.70" cy="225.50" r="1.3" fill="#6aaee0" stroke="#4390d0" stroke-width="0.5"/>
<circle cx="566.50" cy="225.50" r="1.3" fill="#6aaee0" stroke="#4390d0" stroke-width="0.5"/>
<circle cx="568.00" cy="225.50" r="1.3" fill="#6aaee0" stroke="#4390d0" stroke-width="0.5"/>
<circle cx="569.50" cy="225.50" r="1.3" fill="#6aaee0" stroke="#4390d0" stroke-width="0.5"/>
<circle cx="571.00" cy="225.50" r="1.3" fill="#6aaee0" stroke="#4390d0" stroke-width="0.5"/>
<circle cx="572.50" cy="225.50" r="1.3" fill="#6aaee0" stroke="#4390d0" stroke-width="0.5"/>
<circle cx="574.20" cy="225.50" r="1.3" fill="#6aaee0" stroke="#4390d0" stroke-width="0.5"/>
<circle cx="588.60" cy="225.50" r="1.3" fill="#6aaee0" stroke="#4390d0" stroke-width="0.5"/>
<circle cx="564.70" cy="317.90" r="1.3" fill="#6aaee0" stroke="#4390d0" stroke-width="0.5"/>
<circle cx="566.50" cy="317.90" r="1.3" fill="#6aaee0" stroke="#4390d0" stroke-width="0.5"/>
<circle cx="568.00" cy="317.90" r="1.3" fill="#6aaee0" stroke="#4390d0" stroke-width="0.5"/>
<circle cx="570.00" cy="317.90" r="1.3" fill="#6aaee0" stroke="#4390d0" stroke-width="0.5"/>
<circle cx="572.00" cy="317.90" r="1.3" fill="#6aaee0" stroke="#4390d0" stroke-width="0.5"/>
<circle cx="575.00" cy="317.90" r="1.3" fill="#6aaee0" stroke="#4390d0" stroke-width="0.5"/>
<circle cx="577.50" cy="317.90" r="1.3" fill="#6aaee0" stroke="#4390d0" stroke-width="0.5"/>
<circle cx="579.50" cy="317.90" r="1.3" fill="#6aaee0" stroke="#4390d0" stroke-width="0.5"/>
<circle cx="581.50" cy="317.90" r="1.3" fill="#6aaee0" stroke="#4390d0" stroke-width="0.5"/>
<circle cx="583.50" cy="317.90" r="1.3" fill="#6aaee0" stroke="#4390d0" stroke-width="0.5"/>
<circle cx="585.50" cy="317.90" r="1.3" fill="#6aaee0" stroke="#4390d0" stroke-width="0.5"/>
<circle cx="588.00" cy="317.90" r="1.3" fill="#6aaee0" stroke="#4390d0" stroke-width="0.5"/>
<circle cx="591.00" cy="317.90" r="1.3" fill="#6aaee0" stroke="#4390d0" stroke-width="0.5"/>
<circle cx="597.80" cy="317.90" r="1.3" fill="#6aaee0" stroke="#4390d0" stroke-width="0.5"/>
<circle cx="617.00" cy="317.90" r="1.3" fill="#6aaee0" stroke="#4390d0" stroke-width="0.5"/>
<circle cx="621.00" cy="317.90" r="1.3" fill="#6aaee0" stroke="#4390d0" stroke-width="0.5"/>
<circle cx="664.00" cy="317.90" r="1.3" fill="#2f5f9a" stroke="#24508a" stroke-width="0.5"/>
<text x="679.10" y="235.58" font-size="6.6" text-anchor="end" fill="#111" stroke="#111" stroke-width="0.15">OR = 0.773 per ng/ml increase</text>
<text x="679.10" y="244.38" font-size="6.6" text-anchor="end" fill="#111" stroke="#111" stroke-width="0.15">in GDF-15</text>
<text x="679.10" y="253.18" font-size="6.6" text-anchor="end" fill="#111" stroke="#111" stroke-width="0.15">95% CI [0.620, 0.912]</text>
<text x="679.10" y="262.08" font-size="6.6" text-anchor="end" fill="#111" stroke="#111" stroke-width="0.15">p =0.0085</text>
<text x="679.10" y="270.58" font-size="6.6" text-anchor="end" fill="#111" stroke="#111" stroke-width="0.15">(n=87)</text>
<text x="1.70" y="379.20" font-size="10" text-anchor="start" fill="#111" stroke="#111" stroke-width="0.15" font-weight="bold">i</text>
<line x1="34.00" y1="382.50" x2="43.00" y2="382.50" stroke="#8a8a8a" stroke-width="0.9" stroke-linecap="butt"/>
<text x="49.60" y="384.98" font-size="6.6" text-anchor="start" fill="#111" stroke="#111" stroke-width="0.15">GDF-15, &lt; 2.0 ng/ml serum</text>
<line x1="37.70" y1="390.60" x2="46.80" y2="390.60" stroke="#111" stroke-width="1.3" stroke-linecap="butt"/>
<text x="49.60" y="393.18" font-size="6.6" text-anchor="start" fill="#111" stroke="#111" stroke-width="0.15">GDF-15, ≥ 2.0 ng/ml serum</text>
<line x1="23.30" y1="399.60" x2="23.30" y2="483.00" stroke="#111" stroke-width="1.4" stroke-linecap="butt"/>
<line x1="21.10" y1="483.00" x2="23.30" y2="483.00" stroke="#111" stroke-width="1.1" stroke-linecap="butt"/>
<text x="20.00" y="485.27" font-size="6.3" text-anchor="end" fill="#111" stroke="#111" stroke-width="0.15">0</text>
<line x1="21.10" y1="466.32" x2="23.30" y2="466.32" stroke="#111" stroke-width="1.1" stroke-linecap="butt"/>
<text x="20.00" y="468.59" font-size="6.3" text-anchor="end" fill="#111" stroke="#111" stroke-width="0.15">20</text>
<line x1="21.10" y1="449.64" x2="23.30" y2="449.64" stroke="#111" stroke-width="1.1" stroke-linecap="butt"/>
<text x="20.00" y="451.91" font-size="6.3" text-anchor="end" fill="#111" stroke="#111" stroke-width="0.15">40</text>
<line x1="21.10" y1="432.96" x2="23.30" y2="432.96" stroke="#111" stroke-width="1.1" stroke-linecap="butt"/>
<text x="20.00" y="435.23" font-size="6.3" text-anchor="end" fill="#111" stroke="#111" stroke-width="0.15">60</text>
<line x1="21.10" y1="416.28" x2="23.30" y2="416.28" stroke="#111" stroke-width="1.1" stroke-linecap="butt"/>
<text x="20.00" y="418.55" font-size="6.3" text-anchor="end" fill="#111" stroke="#111" stroke-width="0.15">80</text>
<line x1="21.10" y1="399.60" x2="23.30" y2="399.60" stroke="#111" stroke-width="1.1" stroke-linecap="butt"/>
<text x="20.00" y="401.87" font-size="6.3" text-anchor="end" fill="#111" stroke="#111" stroke-width="0.15">100</text>
<line x1="23.30" y1="483.00" x2="144.20" y2="483.00" stroke="#111" stroke-width="1.4" stroke-linecap="butt"/>
<line x1="23.30" y1="483.00" x2="23.30" y2="485.20" stroke="#111" stroke-width="1.1" stroke-linecap="butt"/>
<text x="23.30" y="493.37" font-size="6.3" text-anchor="middle" fill="#111" stroke="#111" stroke-width="0.15">0</text>
<line x1="74.00" y1="483.00" x2="74.00" y2="485.20" stroke="#111" stroke-width="1.1" stroke-linecap="butt"/>
<text x="74.00" y="493.37" font-size="6.3" text-anchor="middle" fill="#111" stroke="#111" stroke-width="0.15">500</text>
<line x1="124.70" y1="483.00" x2="124.70" y2="485.20" stroke="#111" stroke-width="1.1" stroke-linecap="butt"/>
<text x="124.70" y="493.37" font-size="6.3" text-anchor="middle" fill="#111" stroke="#111" stroke-width="0.15">1000</text>
<text x="82.30" y="503.44" font-size="7.9" text-anchor="middle" fill="#111" stroke="#111" stroke-width="0.15">Follow up [days]</text>
<text x="0" y="2.84" font-size="7.9" text-anchor="middle" fill="#111" stroke="#111" stroke-width="0.15" transform="translate(4.80 442.10) rotate(-90)">Survival [%]</text>
<text x="144.70" y="405.28" font-size="6.6" text-anchor="end" fill="#111" stroke="#111" stroke-width="0.15">HR per 1 ng/ml increase in GDF-15</text>
<text x="144.70" y="413.88" font-size="6.6" text-anchor="end" fill="#111" stroke="#111" stroke-width="0.15">= 1.002 [95% CI 1.00 - 1.04]</text>
<text x="144.70" y="422.58" font-size="6.6" text-anchor="end" fill="#111" stroke="#111" stroke-width="0.15">p&lt;0.001</text>
<text x="126.10" y="437.08" font-size="6.6" text-anchor="end" fill="#111" stroke="#111" stroke-width="0.15">n=60</text>
<text x="126.10" y="473.18" font-size="6.6" text-anchor="end" fill="#111" stroke="#111" stroke-width="0.15">n=28</text>
<polyline points="23.28,399.55 24.55,399.55 24.55,400.83 27.28,400.83 27.28,401.92 30.02,401.92 30.02,404.11 32.75,404.11 32.75,406.29 37.30,406.29 37.30,406.84 40.94,406.84 40.94,408.11 43.31,408.11 43.31,410.48 46.41,410.48 46.41,412.30 50.05,412.30 50.05,413.21 52.78,413.21 52.78,415.03 55.51,415.03 55.51,416.85 58.24,416.85 58.24,419.04 60.98,419.04 60.98,420.50 65.53,420.50 65.53,421.41 69.17,421.41 69.17,421.95 70.08,421.95 70.08,424.14 71.90,424.14 71.90,428.15 124.72,428.15 124.72,428.15" fill="none" stroke="#8a8a8a" stroke-width="1.1" stroke-linejoin="miter"/>
<line x1="74.63" y1="426.95" x2="74.63" y2="428.15" stroke="#8a8a8a" stroke-width="0.6" stroke-linecap="butt"/>
<line x1="80.10" y1="426.95" x2="80.10" y2="428.15" stroke="#8a8a8a" stroke-width="0.6" stroke-linecap="butt"/>
<line x1="83.74" y1="426.95" x2="83.74" y2="428.15" stroke="#8a8a8a" stroke-width="0.6" stroke-linecap="butt"/>
<line x1="89.20" y1="426.95" x2="89.20" y2="428.15" stroke="#8a8a8a" stroke-width="0.6" stroke-linecap="butt"/>
<line x1="92.85" y1="426.95" x2="92.85" y2="428.15" stroke="#8a8a8a" stroke-width="0.6" stroke-linecap="butt"/>
<line x1="98.31" y1="426.95" x2="98.31" y2="428.15" stroke="#8a8a8a" stroke-width="0.6" stroke-linecap="butt"/>
<line x1="102.86" y1="426.95" x2="102.86" y2="428.15" stroke="#8a8a8a" stroke-width="0.6" stroke-linecap="butt"/>
<line x1="107.42" y1="426.95" x2="107.42" y2="428.15" stroke="#8a8a8a" stroke-width="0.6" stroke-linecap="butt"/>
<line x1="111.97" y1="426.95" x2="111.97" y2="428.15" stroke="#8a8a8a" stroke-width="0.6" stroke-linecap="butt"/>
<line x1="116.52" y1="426.95" x2="116.52" y2="428.15" stroke="#8a8a8a" stroke-width="0.6" stroke-linecap="butt"/>
<line x1="121.07" y1="426.95" x2="121.07" y2="428.15" stroke="#8a8a8a" stroke-width="0.6" stroke-linecap="butt"/>
<polyline points="23.28,399.55 23.64,399.55 23.64,400.83 26.37,400.83 26.37,401.92 29.11,401.92 29.11,404.11 31.29,404.11 31.29,406.84 32.75,406.84 32.75,409.21 34.21,409.21 34.21,411.39 36.39,411.39 36.39,414.12 37.85,414.12 37.85,416.85 38.21,416.85 38.21,426.87 41.49,426.87 41.49,428.69 44.59,428.69 44.59,430.51 47.32,430.51 47.32,433.24 50.05,433.24 50.05,435.43 52.78,435.43 52.78,437.80 53.69,437.80 53.69,443.26 55.51,443.26 55.51,447.81 58.61,447.81 58.61,449.27 62.25,449.27 62.25,451.46 65.53,451.46 65.53,455.10 69.54,455.10 69.54,457.83 72.81,457.83 72.81,461.47 73.72,461.47 73.72,464.57 86.47,464.57 86.47,464.57 87.38,464.57 87.38,469.30 107.05,469.30 107.05,469.30 107.05,469.30 107.05,476.04 118.34,476.04 118.34,476.04" fill="none" stroke="#111" stroke-width="1.2" stroke-linejoin="miter"/>
<text x="178.50" y="380.10" font-size="10" text-anchor="start" fill="#111" stroke="#111" stroke-width="0.15" font-weight="bold">j</text>
<line x1="196.70" y1="383.00" x2="205.90" y2="383.00" stroke="#707070" stroke-width="1.1" stroke-dasharray="2.4,1.0" stroke-linecap="butt"/>
<line x1="196.70" y1="391.50" x2="205.90" y2="391.50" stroke="#9a9a9a" stroke-width="1.7" stroke-linecap="butt"/>
<line x1="279.90" y1="383.00" x2="289.30" y2="383.00" stroke="#3a64b8" stroke-width="1.6" stroke-dasharray="2.4,1.3" stroke-linecap="butt"/>
<line x1="279.90" y1="391.50" x2="289.30" y2="391.50" stroke="#3a64b8" stroke-width="1.5" stroke-linecap="butt"/>
<text x="208.70" y="385.20" font-size="7.3" fill="#111" stroke="#111" stroke-width="0.15">GDF-15<tspan font-size="4.3" dy="-2.9">low</tspan><tspan dy="2.9" font-size="7.3"> LDH</tspan><tspan font-size="4.3" dy="-2.9">low</tspan></text>
<text x="208.70" y="393.80" font-size="7.3" fill="#111" stroke="#111" stroke-width="0.15">GDF-15<tspan font-size="4.3" dy="-2.9">low</tspan><tspan dy="2.9" font-size="7.3"> LDH</tspan><tspan font-size="4.3" dy="-2.9">high</tspan></text>
<text x="292.30" y="385.20" font-size="7.3" fill="#111" stroke="#111" stroke-width="0.15">GDF-15<tspan font-size="4.3" dy="-2.9">high</tspan><tspan dy="2.9" font-size="7.3"> LDH</tspan><tspan font-size="4.3" dy="-2.9">low</tspan></text>
<text x="292.30" y="393.80" font-size="7.3" fill="#111" stroke="#111" stroke-width="0.15">GDF-15<tspan font-size="4.3" dy="-2.9">high</tspan><tspan dy="2.9" font-size="7.3"> LDH</tspan><tspan font-size="4.3" dy="-2.9">high</tspan></text>
<line x1="196.10" y1="399.10" x2="196.10" y2="483.30" stroke="#111" stroke-width="1.4" stroke-linecap="butt"/>
<line x1="193.90" y1="483.30" x2="196.10" y2="483.30" stroke="#111" stroke-width="1.1" stroke-linecap="butt"/>
<text x="192.80" y="485.57" font-size="6.3" text-anchor="end" fill="#111" stroke="#111" stroke-width="0.15">0</text>
<line x1="193.90" y1="466.46" x2="196.10" y2="466.46" stroke="#111" stroke-width="1.1" stroke-linecap="butt"/>
<text x="192.80" y="468.73" font-size="6.3" text-anchor="end" fill="#111" stroke="#111" stroke-width="0.15">20</text>
<line x1="193.90" y1="449.62" x2="196.10" y2="449.62" stroke="#111" stroke-width="1.1" stroke-linecap="butt"/>
<text x="192.80" y="451.89" font-size="6.3" text-anchor="end" fill="#111" stroke="#111" stroke-width="0.15">40</text>
<line x1="193.90" y1="432.78" x2="196.10" y2="432.78" stroke="#111" stroke-width="1.1" stroke-linecap="butt"/>
<text x="192.80" y="435.05" font-size="6.3" text-anchor="end" fill="#111" stroke="#111" stroke-width="0.15">60</text>
<line x1="193.90" y1="415.94" x2="196.10" y2="415.94" stroke="#111" stroke-width="1.1" stroke-linecap="butt"/>
<text x="192.80" y="418.21" font-size="6.3" text-anchor="end" fill="#111" stroke="#111" stroke-width="0.15">80</text>
<line x1="193.90" y1="399.10" x2="196.10" y2="399.10" stroke="#111" stroke-width="1.1" stroke-linecap="butt"/>
<text x="192.80" y="401.37" font-size="6.3" text-anchor="end" fill="#111" stroke="#111" stroke-width="0.15">100</text>
<line x1="196.10" y1="483.30" x2="327.50" y2="483.30" stroke="#111" stroke-width="1.4" stroke-linecap="butt"/>
<line x1="196.10" y1="483.30" x2="196.10" y2="485.50" stroke="#111" stroke-width="1.1" stroke-linecap="butt"/>
<text x="196.10" y="493.47" font-size="6.3" text-anchor="middle" fill="#111" stroke="#111" stroke-width="0.15">0</text>
<line x1="261.80" y1="483.30" x2="261.80" y2="485.50" stroke="#111" stroke-width="1.1" stroke-linecap="butt"/>
<text x="261.80" y="493.47" font-size="6.3" text-anchor="middle" fill="#111" stroke="#111" stroke-width="0.15">500</text>
<line x1="327.50" y1="483.30" x2="327.50" y2="485.50" stroke="#111" stroke-width="1.1" stroke-linecap="butt"/>
<text x="327.50" y="493.47" font-size="6.3" text-anchor="middle" fill="#111" stroke="#111" stroke-width="0.15">1000</text>
<text x="261.00" y="503.14" font-size="7.9" text-anchor="middle" fill="#111" stroke="#111" stroke-width="0.15">Follow up [days]</text>
<text x="0" y="2.84" font-size="7.9" text-anchor="middle" fill="#111" stroke="#111" stroke-width="0.15" transform="translate(177.60 442.60) rotate(-90)">Survival [%]</text>
<polyline points="196.10,399.40 205.00,399.40 205.00,401.60 212.00,401.60 212.00,402.70 216.00,402.70 216.00,404.00 222.00,404.00 222.00,405.20 227.00,405.20 227.00,406.40 238.80,406.40 238.80,409.60 245.00,409.60 245.00,412.50 257.30,412.50 257.30,416.50 324.00,416.50 324.00,416.50" fill="none" stroke="#8a8a8a" stroke-width="1.15" stroke-dasharray="2.6,1.2" stroke-linejoin="miter"/>
<line x1="208.00" y1="400.20" x2="208.00" y2="401.90" stroke="#858585" stroke-width="0.6" stroke-linecap="butt"/>
<line x1="214.00" y1="401.30" x2="214.00" y2="403.00" stroke="#858585" stroke-width="0.6" stroke-linecap="butt"/>
<line x1="219.00" y1="402.60" x2="219.00" y2="404.30" stroke="#858585" stroke-width="0.6" stroke-linecap="butt"/>
<line x1="224.00" y1="403.80" x2="224.00" y2="405.50" stroke="#858585" stroke-width="0.6" stroke-linecap="butt"/>
<line x1="231.00" y1="405.00" x2="231.00" y2="406.70" stroke="#858585" stroke-width="0.6" stroke-linecap="butt"/>
<line x1="234.00" y1="405.00" x2="234.00" y2="406.70" stroke="#858585" stroke-width="0.6" stroke-linecap="butt"/>
<line x1="242.00" y1="407.90" x2="242.00" y2="409.60" stroke="#858585" stroke-width="0.6" stroke-linecap="butt"/>
<line x1="244.00" y1="407.90" x2="244.00" y2="409.60" stroke="#858585" stroke-width="0.6" stroke-linecap="butt"/>
<line x1="250.00" y1="411.00" x2="250.00" y2="412.70" stroke="#858585" stroke-width="0.6" stroke-linecap="butt"/>
<line x1="253.00" y1="411.00" x2="253.00" y2="412.70" stroke="#858585" stroke-width="0.6" stroke-linecap="butt"/>
<line x1="261.00" y1="414.90" x2="261.00" y2="416.60" stroke="#858585" stroke-width="0.6" stroke-linecap="butt"/>
<line x1="264.00" y1="414.90" x2="264.00" y2="416.60" stroke="#858585" stroke-width="0.6" stroke-linecap="butt"/>
<line x1="268.00" y1="414.90" x2="268.00" y2="416.60" stroke="#858585" stroke-width="0.6" stroke-linecap="butt"/>
<line x1="272.00" y1="414.90" x2="272.00" y2="416.60" stroke="#858585" stroke-width="0.6" stroke-linecap="butt"/>
<line x1="276.00" y1="414.90" x2="276.00" y2="416.60" stroke="#858585" stroke-width="0.6" stroke-linecap="butt"/>
<line x1="281.00" y1="414.90" x2="281.00" y2="416.60" stroke="#858585" stroke-width="0.6" stroke-linecap="butt"/>
<line x1="284.00" y1="414.90" x2="284.00" y2="416.60" stroke="#858585" stroke-width="0.6" stroke-linecap="butt"/>
<line x1="291.00" y1="414.90" x2="291.00" y2="416.60" stroke="#858585" stroke-width="0.6" stroke-linecap="butt"/>
<line x1="295.00" y1="414.90" x2="295.00" y2="416.60" stroke="#858585" stroke-width="0.6" stroke-linecap="butt"/>
<line x1="306.00" y1="414.90" x2="306.00" y2="416.60" stroke="#858585" stroke-width="0.6" stroke-linecap="butt"/>
<line x1="312.00" y1="414.90" x2="312.00" y2="416.60" stroke="#858585" stroke-width="0.6" stroke-linecap="butt"/>
<line x1="318.00" y1="414.90" x2="318.00" y2="416.60" stroke="#858585" stroke-width="0.6" stroke-linecap="butt"/>
<line x1="321.00" y1="414.90" x2="321.00" y2="416.60" stroke="#858585" stroke-width="0.6" stroke-linecap="butt"/>
<polyline points="196.10,399.40 196.60,399.40 196.60,405.70 199.10,405.70 199.10,409.80 203.20,409.80 203.20,413.40 220.10,413.40 220.10,423.10 232.90,423.10 232.90,429.70 238.00,429.70 238.00,433.30 256.90,433.30 256.90,444.60 328.00,444.60 328.00,444.60" fill="none" stroke="#9a9a9a" stroke-width="1.3" stroke-linejoin="miter"/>
<line x1="270.00" y1="443.40" x2="270.00" y2="444.60" stroke="#9a9a9a" stroke-width="0.6" stroke-linecap="butt"/>
<line x1="275.00" y1="443.40" x2="275.00" y2="444.60" stroke="#9a9a9a" stroke-width="0.6" stroke-linecap="butt"/>
<line x1="280.00" y1="443.40" x2="280.00" y2="444.60" stroke="#9a9a9a" stroke-width="0.6" stroke-linecap="butt"/>
<line x1="312.00" y1="443.40" x2="312.00" y2="444.60" stroke="#9a9a9a" stroke-width="0.6" stroke-linecap="butt"/>
<line x1="325.00" y1="443.40" x2="325.00" y2="444.60" stroke="#9a9a9a" stroke-width="0.6" stroke-linecap="butt"/>
<polyline points="196.10,399.60 214.50,399.60 214.50,413.30 238.00,413.30 238.00,431.00 261.10,431.00 261.10,457.20 305.80,457.20 305.80,483.30" fill="none" stroke="#3a64b8" stroke-width="1.5" stroke-dasharray="3.2,1.6" stroke-linejoin="miter"/>
<polyline points="196.10,399.40 196.30,399.40 196.30,402.70 203.20,402.70 203.20,406.80 205.80,406.80 205.80,410.30 207.80,410.30 207.80,414.40 211.40,414.40 211.40,419.00 214.50,419.00 214.50,429.60 219.20,429.60 219.20,434.00 226.40,434.00 226.40,437.40 230.50,437.40 230.50,441.30 235.10,441.30 235.10,454.00 241.30,454.00 241.30,457.90 251.00,457.90 251.00,462.40 258.20,462.40 258.20,467.70 278.80,467.70 278.80,467.70 278.80,467.70 278.80,473.00 320.70,473.00 320.70,473.00" fill="none" stroke="#3a64b8" stroke-width="1.4" stroke-linejoin="miter"/>
<line x1="282.00" y1="471.80" x2="282.00" y2="473.00" stroke="#222" stroke-width="0.6" stroke-linecap="butt"/>
<line x1="235.10" y1="443.50" x2="235.10" y2="445.00" stroke="#222" stroke-width="0.7" stroke-linecap="butt"/>
<line x1="251.30" y1="461.00" x2="251.30" y2="462.40" stroke="#222" stroke-width="0.7" stroke-linecap="butt"/>
<line x1="319.00" y1="471.80" x2="319.00" y2="473.00" stroke="#222" stroke-width="0.6" stroke-linecap="butt"/>
<text x="321.10" y="414.48" font-size="6.6" text-anchor="end" fill="#9a9a9a" stroke="#9a9a9a" stroke-width="0.15">n=35</text>
<text x="327.00" y="442.28" font-size="6.6" text-anchor="end" fill="#9a9a9a" stroke="#9a9a9a" stroke-width="0.15">n=25</text>
<text x="299.80" y="454.18" font-size="6.6" text-anchor="middle" fill="#3a64b8" stroke="#3a64b8" stroke-width="0.15">n=6</text>
<text x="327.00" y="470.78" font-size="6.6" text-anchor="end" fill="#3a64b8" stroke="#3a64b8" stroke-width="0.15">n=22</text>
<text x="354.10" y="446.08" font-size="6.6" text-anchor="start" fill="#111" stroke="#111" stroke-width="0.15">p-values (by log rank test, unadjusted)</text>
<line x1="380.70" y1="450.90" x2="394.00" y2="450.90" stroke="#888" stroke-width="1.0" stroke-dasharray="2.4,1.4" stroke-linecap="butt"/>
<line x1="407.30" y1="450.90" x2="420.00" y2="450.90" stroke="#9a9a9a" stroke-width="1.6" stroke-linecap="butt"/>
<line x1="434.20" y1="450.90" x2="447.90" y2="450.90" stroke="#3a64b8" stroke-width="1.3" stroke-dasharray="2.6,1.4" stroke-linecap="butt"/>
<line x1="354.90" y1="458.50" x2="368.70" y2="458.50" stroke="#9a9a9a" stroke-width="1.1" stroke-linecap="butt"/>
<line x1="354.90" y1="466.10" x2="368.70" y2="466.10" stroke="#3a64b8" stroke-width="1.3" stroke-dasharray="2.6,1.4" stroke-linecap="butt"/>
<line x1="354.90" y1="474.00" x2="368.70" y2="474.00" stroke="#3a64b8" stroke-width="1.6" stroke-linecap="butt"/>
<text x="378.80" y="460.88" font-size="6.6" text-anchor="start" fill="#111" stroke="#111" stroke-width="0.15">0.006</text>
<text x="378.80" y="468.48" font-size="6.6" text-anchor="start" fill="#111" stroke="#111" stroke-width="0.15">0.013</text>
<text x="405.40" y="468.48" font-size="6.6" text-anchor="start" fill="#111" stroke="#111" stroke-width="0.15">0.727</text>
<text x="374.40" y="476.38" font-size="6.6" text-anchor="start" fill="#111" stroke="#111" stroke-width="0.15">&lt; 0.0001</text>
<text x="405.40" y="476.38" font-size="6.6" text-anchor="start" fill="#111" stroke="#111" stroke-width="0.15">0.043</text>
<text x="432.70" y="476.38" font-size="6.6" text-anchor="start" fill="#111" stroke="#111" stroke-width="0.15">0.230</text>
</svg>
</body></html>
